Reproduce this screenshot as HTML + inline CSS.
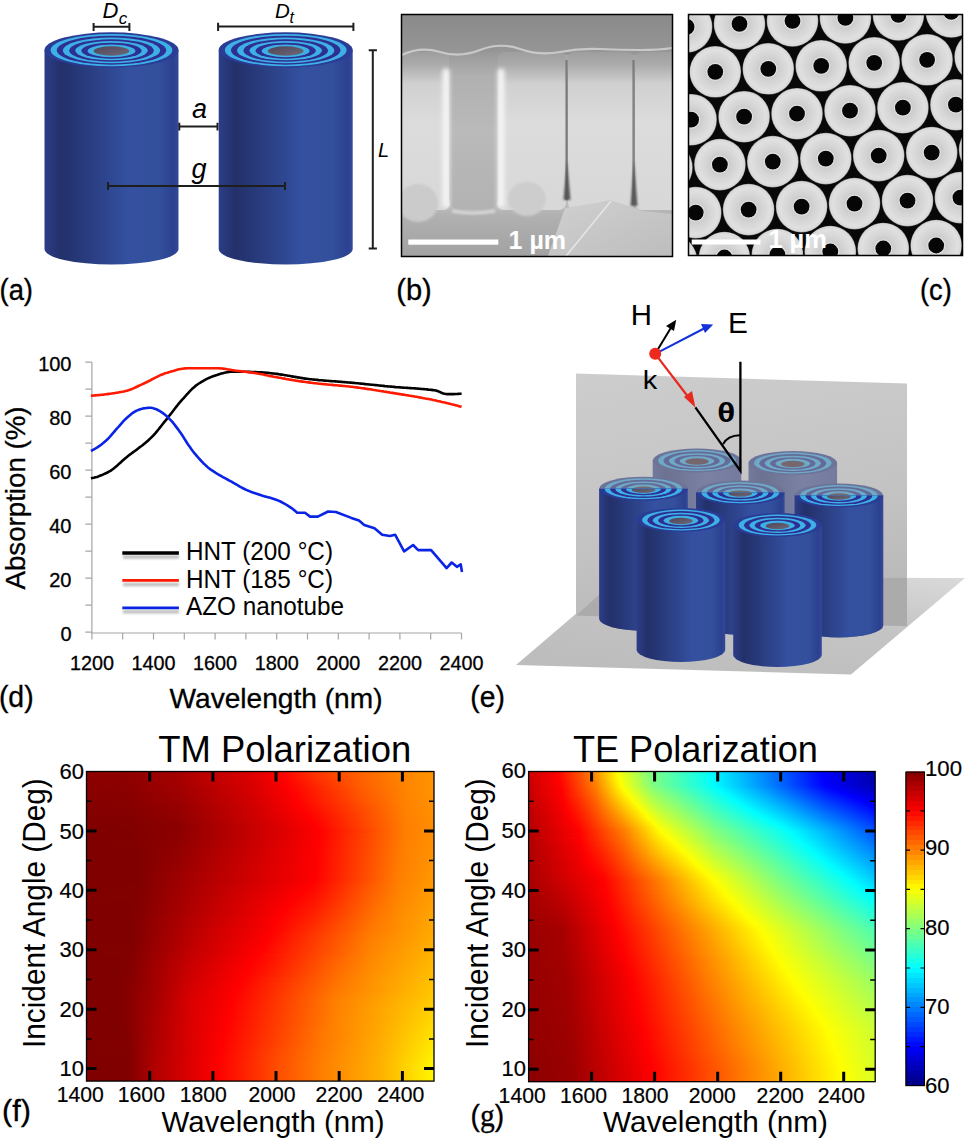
<!DOCTYPE html>
<html><head><meta charset="utf-8"><style>
html,body{margin:0;padding:0;background:#fff}
body{width:971px;height:1142px;position:relative;overflow:hidden;font-family:"Liberation Sans", sans-serif}
.hm{position:absolute;overflow:hidden}
.hm i{position:absolute;left:0;right:0;display:block}
</style></head><body>
<div class="hm" style="left:86px;top:771px;width:348px;height:310px"><i style="top:0px;height:2px;background:linear-gradient(90deg,#8c0000 0.0%,#910000 13.1%,#a50000 26.9%,#bd0000 33.2%,#d90000 46.1%,#fe0000 55.9%,#ff3700 65.9%,#ff6000 78.0%,#ff8400 90.1%,#ff9400 100.0%)"></i><i style="top:2px;height:2px;background:linear-gradient(90deg,#8c0000 0.0%,#910000 13.1%,#a50000 26.9%,#bb0000 33.2%,#d80000 46.1%,#fe0000 56.2%,#ff3400 65.9%,#ff5f00 78.0%,#ff8400 90.1%,#ff9400 100.0%)"></i><i style="top:4px;height:2px;background:linear-gradient(90deg,#8b0000 0.0%,#900000 12.8%,#a50000 26.9%,#ba0000 33.2%,#d80000 46.1%,#ff0000 56.5%,#ff3100 65.9%,#ff5e00 78.0%,#ff8300 90.1%,#ff9400 100.0%)"></i><i style="top:6px;height:2px;background:linear-gradient(90deg,#8b0000 0.0%,#8f0000 12.8%,#a40000 26.9%,#b90000 33.2%,#d70000 46.1%,#ff0000 56.8%,#ff2f00 65.9%,#ff6400 80.0%,#ff8200 90.1%,#ff9400 100.0%)"></i><i style="top:8px;height:2px;background:linear-gradient(90deg,#8b0000 0.0%,#8e0000 12.2%,#a40000 26.9%,#b80000 33.2%,#db0000 47.8%,#ff0000 57.0%,#ff2c00 65.9%,#ff6300 80.0%,#ff8100 90.1%,#ff9400 100.0%)"></i><i style="top:10px;height:2px;background:linear-gradient(90deg,#8a0000 0.0%,#8d0000 11.9%,#a40000 26.9%,#b90000 34.1%,#da0000 47.8%,#ff0000 57.3%,#ff2b00 66.2%,#ff6200 80.0%,#ff8500 91.8%,#ff9400 100.0%)"></i><i style="top:12px;height:2px;background:linear-gradient(90deg,#8a0000 0.0%,#8d0000 11.9%,#a30000 26.9%,#b90000 34.1%,#d90000 47.8%,#ff0000 57.6%,#ff3400 68.8%,#ff6200 80.0%,#ff8400 91.8%,#ff9400 100.0%)"></i><i style="top:14px;height:2px;background:linear-gradient(90deg,#8a0000 0.0%,#8c0000 11.9%,#a30000 26.9%,#d80000 47.8%,#fe0000 57.9%,#ff6100 80.0%,#ff8500 92.1%,#ff9400 100.0%)"></i><i style="top:16px;height:2px;background:linear-gradient(90deg,#890000 0.0%,#8c0000 11.9%,#a20000 26.9%,#d70000 47.8%,#fe0000 58.2%,#ff5f00 80.0%,#ff8500 92.1%,#ff9300 100.0%)"></i><i style="top:18px;height:2px;background:linear-gradient(90deg,#890000 0.0%,#8b0000 11.9%,#a10000 26.9%,#d70000 47.8%,#fe0000 58.5%,#ff5e00 80.0%,#ff8400 92.1%,#ff9300 100.0%)"></i><i style="top:20px;height:2px;background:linear-gradient(90deg,#880000 0.0%,#8a0000 11.9%,#a00000 26.9%,#d60000 47.8%,#fe0000 58.8%,#ff5c00 80.0%,#ff8400 92.1%,#ff9300 100.0%)"></i><i style="top:22px;height:2px;background:linear-gradient(90deg,#880000 0.0%,#8a0000 11.9%,#9f0000 26.9%,#d60000 48.1%,#ff0000 59.3%,#ff5b00 80.0%,#ff8400 92.1%,#ff9200 100.0%)"></i><i style="top:24px;height:2px;background:linear-gradient(90deg,#870000 0.0%,#890000 11.9%,#9e0000 26.9%,#d50000 48.1%,#ff0000 59.6%,#ff5900 80.0%,#ff8400 92.1%,#ff9200 100.0%)"></i><i style="top:26px;height:2px;background:linear-gradient(90deg,#870000 0.0%,#890000 11.9%,#9d0000 26.9%,#d40000 48.1%,#ff0000 59.9%,#ff5800 80.0%,#ff8200 91.8%,#ff9100 100.0%)"></i><i style="top:28px;height:2px;background:linear-gradient(90deg,#860000 0.0%,#880000 11.9%,#9c0000 26.9%,#d30000 48.1%,#ff0000 60.2%,#ff5600 80.0%,#ff8200 91.8%,#ff9100 100.0%)"></i><i style="top:30px;height:2px;background:linear-gradient(90deg,#860000 0.0%,#880000 12.2%,#9b0000 26.9%,#d30000 48.1%,#ff0000 60.5%,#ff5500 80.0%,#ff8200 91.8%,#ff9100 100.0%)"></i><i style="top:32px;height:2px;background:linear-gradient(90deg,#850000 0.0%,#870000 12.2%,#990000 26.9%,#d20000 48.1%,#fe0000 60.8%,#ff5300 80.0%,#ff8200 91.8%,#ff9000 100.0%)"></i><i style="top:34px;height:2px;background:linear-gradient(90deg,#850000 0.0%,#870000 12.2%,#980000 26.9%,#d10000 48.1%,#ff0000 61.4%,#ff8100 91.8%,#ff9000 100.0%)"></i><i style="top:36px;height:2px;background:linear-gradient(90deg,#850000 0.0%,#860000 12.2%,#970000 26.9%,#d00000 48.1%,#ff0000 61.6%,#ff8100 91.8%,#ff9000 100.0%)"></i><i style="top:38px;height:2px;background:linear-gradient(90deg,#840000 0.0%,#850000 12.2%,#960000 26.9%,#cf0000 48.1%,#ff0000 62.2%,#ff8100 91.8%,#ff8f00 100.0%)"></i><i style="top:40px;height:2px;background:linear-gradient(90deg,#840000 0.0%,#850000 12.8%,#950000 26.9%,#cf0000 48.1%,#ff0000 62.5%,#ff1100 67.1%,#ff8100 91.8%,#ff8f00 100.0%)"></i><i style="top:42px;height:2px;background:linear-gradient(90deg,#830000 0.0%,#850000 12.8%,#940000 26.9%,#ce0000 48.1%,#fe0000 62.8%,#ff0f00 67.1%,#ff8000 91.8%,#ff8f00 100.0%)"></i><i style="top:44px;height:2px;background:linear-gradient(90deg,#830000 0.0%,#840000 12.8%,#930000 26.9%,#cd0000 48.1%,#ff0000 63.4%,#ff0e00 67.1%,#ff8000 91.8%,#ff8e00 100.0%)"></i><i style="top:46px;height:2px;background:linear-gradient(90deg,#820000 0.0%,#830000 13.1%,#920000 26.9%,#df0000 54.7%,#ff0000 63.9%,#ff0c00 67.1%,#ff8000 91.8%,#ff8e00 100.0%)"></i><i style="top:48px;height:2px;background:linear-gradient(90deg,#820000 0.0%,#830000 13.1%,#910000 26.9%,#df0000 55.0%,#ff0000 64.2%,#ff0a00 67.1%,#ff8000 91.8%,#ff8e00 100.0%)"></i><i style="top:50px;height:2px;background:linear-gradient(90deg,#810000 0.0%,#820000 13.1%,#900000 26.9%,#de0000 55.0%,#ff0000 64.8%,#ff0800 67.1%,#ff7f00 91.8%,#ff8d00 100.0%)"></i><i style="top:52px;height:2px;background:linear-gradient(90deg,#810000 0.0%,#810000 13.1%,#8f0000 26.9%,#dc0000 55.0%,#ff0000 65.4%,#ff7f00 91.8%,#ff8d00 100.0%)"></i><i style="top:54px;height:2px;background:linear-gradient(90deg,#800000 0.0%,#810000 13.1%,#8e0000 26.9%,#db0000 55.0%,#ff0000 65.9%,#ff7f00 91.8%,#ff8d00 100.0%)"></i><i style="top:56px;height:2px;background:linear-gradient(90deg,#800000 0.0%,#800000 13.1%,#8d0000 26.9%,#da0000 55.0%,#ff0000 66.5%,#ff7f00 91.8%,#ff8c00 100.0%)"></i><i style="top:58px;height:2px;background:linear-gradient(90deg,#800000 0.0%,#800000 13.1%,#8c0000 26.9%,#b30000 40.1%,#d90000 55.0%,#ff0000 66.8%,#ff4000 80.0%,#ff7f00 91.8%,#ff8c00 100.0%)"></i><i style="top:60px;height:2px;background:linear-gradient(90deg,#800000 0.0%,#800000 13.1%,#8d0000 26.9%,#d90000 55.0%,#ff0000 66.8%,#ff4000 80.0%,#ff7f00 91.8%,#ff8d00 100.0%)"></i><i style="top:62px;height:2px;background:linear-gradient(90deg,#800000 0.0%,#800000 13.1%,#8e0000 26.9%,#da0000 55.0%,#ff0000 66.8%,#ff7f00 91.8%,#ff8d00 100.0%)"></i><i style="top:64px;height:2px;background:linear-gradient(90deg,#800000 0.0%,#800000 13.1%,#8e0000 26.9%,#da0000 55.0%,#ff0000 66.8%,#ff7f00 91.8%,#ff8e00 100.0%)"></i><i style="top:66px;height:2px;background:linear-gradient(90deg,#800000 0.0%,#800000 13.1%,#8f0000 26.9%,#db0000 55.0%,#ff0000 66.8%,#ff7f00 91.8%,#ff8e00 100.0%)"></i><i style="top:68px;height:2px;background:linear-gradient(90deg,#800000 0.0%,#800000 13.1%,#900000 26.9%,#db0000 55.0%,#fe0000 66.5%,#ff8000 91.8%,#ff8f00 100.0%)"></i><i style="top:70px;height:2px;background:linear-gradient(90deg,#800000 0.0%,#800000 13.1%,#900000 26.9%,#dc0000 55.0%,#ff0000 66.5%,#ff8000 91.8%,#ff8f00 100.0%)"></i><i style="top:72px;height:2px;background:linear-gradient(90deg,#800000 0.0%,#810000 14.8%,#910000 26.9%,#dc0000 55.0%,#ff0000 66.5%,#ff8000 91.8%,#ff9000 100.0%)"></i><i style="top:74px;height:2px;background:linear-gradient(90deg,#800000 0.0%,#810000 14.8%,#920000 26.9%,#dd0000 55.0%,#ff0000 66.5%,#ff8000 91.8%,#ff9000 100.0%)"></i><i style="top:76px;height:2px;background:linear-gradient(90deg,#800000 0.0%,#810000 14.8%,#930000 26.9%,#dd0000 55.0%,#ff0000 66.5%,#ff7900 90.1%,#ff8200 92.1%,#ff9100 100.0%)"></i><i style="top:78px;height:2px;background:linear-gradient(90deg,#800000 0.0%,#800000 14.8%,#930000 26.9%,#ff0000 66.5%,#ff7a00 90.1%,#ff8200 92.1%,#ff9100 100.0%)"></i><i style="top:80px;height:2px;background:linear-gradient(90deg,#800000 0.0%,#800000 14.8%,#940000 26.9%,#fe0000 66.2%,#ff7a00 90.1%,#ff8200 92.1%,#ff9200 100.0%)"></i><i style="top:82px;height:2px;background:linear-gradient(90deg,#800000 0.0%,#800000 14.8%,#950000 26.9%,#fe0000 66.2%,#ff7a00 90.1%,#ff8200 92.1%,#ff9200 100.0%)"></i><i style="top:84px;height:2px;background:linear-gradient(90deg,#800000 0.0%,#800000 14.8%,#950000 26.9%,#ff0000 66.2%,#ff7b00 90.1%,#ff8200 92.1%,#ff9300 100.0%)"></i><i style="top:86px;height:2px;background:linear-gradient(90deg,#800000 0.0%,#800000 15.1%,#960000 26.9%,#ff0000 66.2%,#ff7b00 90.1%,#ff8300 92.1%,#ff9300 100.0%)"></i><i style="top:88px;height:2px;background:linear-gradient(90deg,#800000 0.0%,#800000 15.1%,#970000 26.9%,#ff0000 66.2%,#ff7c00 90.1%,#ff9400 100.0%)"></i><i style="top:90px;height:2px;background:linear-gradient(90deg,#800000 0.0%,#800000 15.1%,#980000 27.2%,#ff0000 66.2%,#ff7c00 90.1%,#ff9400 100.0%)"></i><i style="top:92px;height:2px;background:linear-gradient(90deg,#800000 0.0%,#800000 15.1%,#990000 27.2%,#ff0000 66.2%,#ff7c00 90.1%,#ff9500 100.0%)"></i><i style="top:94px;height:2px;background:linear-gradient(90deg,#800000 0.0%,#800000 15.1%,#9a0000 27.2%,#ff0000 66.2%,#ff7d00 90.1%,#ff9500 100.0%)"></i><i style="top:96px;height:2px;background:linear-gradient(90deg,#800000 0.0%,#800000 15.1%,#9a0000 27.2%,#ff0000 66.2%,#ff7d00 90.1%,#ff9600 100.0%)"></i><i style="top:98px;height:2px;background:linear-gradient(90deg,#800000 0.0%,#800000 15.1%,#9b0000 27.2%,#fe0000 65.9%,#ff7e00 90.1%,#ff9600 100.0%)"></i><i style="top:100px;height:2px;background:linear-gradient(90deg,#800000 0.0%,#800000 15.1%,#fe0000 65.9%,#ff7e00 90.1%,#ff9700 100.0%)"></i><i style="top:102px;height:2px;background:linear-gradient(90deg,#800000 0.0%,#800000 15.1%,#ff0000 65.9%,#ff7f00 90.1%,#ff9700 100.0%)"></i><i style="top:104px;height:2px;background:linear-gradient(90deg,#800000 0.0%,#800000 15.1%,#ff0000 65.9%,#ff7e00 89.8%,#ff9800 100.0%)"></i><i style="top:106px;height:2px;background:linear-gradient(90deg,#800000 0.0%,#800000 15.1%,#ff0000 65.9%,#ff7e00 89.8%,#ff9800 100.0%)"></i><i style="top:108px;height:2px;background:linear-gradient(90deg,#800000 0.0%,#800000 15.1%,#ff0000 65.9%,#ff7f00 89.8%,#ff9900 100.0%)"></i><i style="top:110px;height:2px;background:linear-gradient(90deg,#800000 0.0%,#800000 15.1%,#ff0000 65.1%,#ff7f00 89.8%,#ff9900 100.0%)"></i><i style="top:112px;height:2px;background:linear-gradient(90deg,#800000 0.0%,#800000 15.1%,#ff0000 64.2%,#ff0600 66.2%,#ff5000 80.0%,#ff8000 89.8%,#ff9a00 100.0%)"></i><i style="top:114px;height:2px;background:linear-gradient(90deg,#800000 0.0%,#810000 15.1%,#ff0000 63.6%,#ff0800 66.2%,#ff5100 80.0%,#ff8100 89.8%,#ff9b00 100.0%)"></i><i style="top:116px;height:2px;background:linear-gradient(90deg,#800000 0.0%,#810000 15.1%,#ff0000 62.8%,#ff0800 65.9%,#ff5300 80.0%,#ff8100 89.8%,#ff9c00 100.0%)"></i><i style="top:118px;height:2px;background:linear-gradient(90deg,#800000 0.0%,#810000 15.1%,#ff0000 62.2%,#ff0a00 65.9%,#ff5400 80.0%,#ff8200 89.8%,#ff9c00 100.0%)"></i><i style="top:120px;height:2px;background:linear-gradient(90deg,#800000 0.0%,#810000 15.1%,#ff0000 61.6%,#ff0c00 65.9%,#ff5500 80.0%,#ff8300 89.8%,#ff9d00 100.0%)"></i><i style="top:122px;height:2px;background:linear-gradient(90deg,#800000 0.0%,#810000 15.1%,#ff0000 61.1%,#ff0e00 65.9%,#ff5700 80.0%,#ff8300 89.8%,#ff9e00 100.0%)"></i><i style="top:124px;height:2px;background:linear-gradient(90deg,#800000 0.0%,#820000 15.1%,#ff0000 60.5%,#ff1000 65.9%,#ff6100 81.8%,#ff8400 89.8%,#ff9e00 100.0%)"></i><i style="top:126px;height:2px;background:linear-gradient(90deg,#800000 0.0%,#820000 15.1%,#ff0000 59.9%,#ff1200 65.9%,#ff6200 81.8%,#ff8500 89.8%,#ff9f00 100.0%)"></i><i style="top:128px;height:2px;background:linear-gradient(90deg,#800000 0.0%,#820000 15.1%,#ff0000 59.3%,#ff1400 65.9%,#ff6300 81.8%,#ff8600 89.8%,#ffa000 100.0%)"></i><i style="top:130px;height:2px;background:linear-gradient(90deg,#800000 0.0%,#800000 12.8%,#820000 15.1%,#ff0000 58.8%,#ff1600 65.9%,#ff6500 81.8%,#ff8600 89.8%,#ffa000 100.0%)"></i><i style="top:132px;height:2px;background:linear-gradient(90deg,#800000 0.0%,#800000 12.8%,#830000 15.1%,#ff0000 58.5%,#ff1800 65.9%,#ff6700 82.0%,#ff8700 89.8%,#ffa100 100.0%)"></i><i style="top:134px;height:2px;background:linear-gradient(90deg,#800000 0.0%,#800000 12.8%,#830000 15.1%,#ff0000 57.9%,#ff1a00 65.9%,#ff6900 82.0%,#ff8800 89.8%,#ffa200 100.0%)"></i><i style="top:136px;height:2px;background:linear-gradient(90deg,#800000 0.0%,#800000 12.8%,#830000 15.1%,#ff0000 57.3%,#ff1c00 65.9%,#ff6a00 82.0%,#ff8800 89.8%,#ffa200 100.0%)"></i><i style="top:138px;height:2px;background:linear-gradient(90deg,#800000 0.0%,#800000 12.8%,#830000 15.1%,#ff0000 57.0%,#ff1e00 65.9%,#ff6b00 82.0%,#ff8900 89.8%,#ffa300 100.0%)"></i><i style="top:140px;height:2px;background:linear-gradient(90deg,#800000 0.0%,#800000 12.8%,#830000 14.8%,#fe0000 56.5%,#ff2000 65.9%,#ff6d00 82.0%,#ff8b00 90.1%,#ffa400 100.0%)"></i><i style="top:142px;height:2px;background:linear-gradient(90deg,#800000 0.0%,#800000 12.8%,#830000 14.8%,#ff0000 56.2%,#ff2200 65.9%,#ff6e00 82.0%,#ff8b00 90.1%,#ffa400 100.0%)"></i><i style="top:144px;height:2px;background:linear-gradient(90deg,#800000 0.0%,#800000 12.8%,#830000 14.8%,#ff0000 55.9%,#ff2400 65.9%,#ff6f00 82.0%,#ff8c00 90.1%,#ffa500 100.0%)"></i><i style="top:146px;height:2px;background:linear-gradient(90deg,#800000 0.0%,#800000 13.1%,#ff0000 55.3%,#ff2600 65.9%,#ff7100 82.0%,#ff8d00 90.1%,#ffa600 100.0%)"></i><i style="top:148px;height:2px;background:linear-gradient(90deg,#800000 0.0%,#800000 13.1%,#ff0000 55.0%,#ff2800 65.9%,#ff7200 82.0%,#ff8d00 90.1%,#ffa600 100.0%)"></i><i style="top:150px;height:2px;background:linear-gradient(90deg,#800000 0.0%,#800000 13.1%,#ff0000 54.7%,#ff2a00 65.9%,#ff7400 82.0%,#ff8e00 90.1%,#ffa700 100.0%)"></i><i style="top:152px;height:2px;background:linear-gradient(90deg,#800000 0.0%,#800000 13.1%,#ff0000 54.5%,#ff2c00 65.9%,#ff7500 82.0%,#ff8f00 90.1%,#ffa800 100.0%)"></i><i style="top:154px;height:2px;background:linear-gradient(90deg,#800000 0.0%,#800000 13.1%,#ff0000 54.2%,#ff2e00 65.9%,#ff7600 82.0%,#ff8f00 90.1%,#ffa800 100.0%)"></i><i style="top:156px;height:2px;background:linear-gradient(90deg,#800000 0.0%,#800000 13.1%,#c70000 34.9%,#fe0000 53.6%,#ff3000 65.9%,#ff7800 82.0%,#ffa900 100.0%)"></i><i style="top:158px;height:2px;background:linear-gradient(90deg,#800000 0.0%,#800000 13.1%,#c80000 34.9%,#ff0000 53.3%,#ff3200 65.9%,#ff7900 82.0%,#ffaa00 100.0%)"></i><i style="top:160px;height:2px;background:linear-gradient(90deg,#800000 0.0%,#800000 13.1%,#c80000 34.9%,#ff0000 53.0%,#ff3300 65.9%,#ff7a00 82.0%,#ffaa00 100.0%)"></i><i style="top:162px;height:2px;background:linear-gradient(90deg,#800000 0.0%,#800000 13.1%,#c90000 34.9%,#ff0000 52.7%,#ff7c00 82.0%,#ffab00 100.0%)"></i><i style="top:164px;height:2px;background:linear-gradient(90deg,#800000 0.0%,#800000 13.1%,#ca0000 34.9%,#ff0000 52.4%,#ff7d00 82.0%,#ffac00 100.0%)"></i><i style="top:166px;height:2px;background:linear-gradient(90deg,#800000 0.0%,#800000 13.1%,#cb0000 34.9%,#ff0000 52.2%,#ff7e00 82.0%,#ffac00 100.0%)"></i><i style="top:168px;height:2px;background:linear-gradient(90deg,#800000 0.0%,#800000 13.1%,#cc0000 34.9%,#ff0000 51.9%,#ff8000 82.0%,#ffad00 100.0%)"></i><i style="top:170px;height:2px;background:linear-gradient(90deg,#800000 0.0%,#800000 13.1%,#cd0000 34.9%,#ff0000 51.6%,#ff8100 82.0%,#ffae00 100.0%)"></i><i style="top:172px;height:2px;background:linear-gradient(90deg,#800000 0.0%,#810000 13.1%,#ce0000 34.9%,#ff0000 51.0%,#ff8100 82.0%,#ffaf00 100.0%)"></i><i style="top:174px;height:2px;background:linear-gradient(90deg,#800000 0.0%,#810000 13.1%,#cf0000 34.9%,#ff0000 50.7%,#ff8200 82.0%,#ffb000 100.0%)"></i><i style="top:176px;height:2px;background:linear-gradient(90deg,#800000 0.0%,#810000 13.1%,#bf0000 30.0%,#ff0000 50.1%,#ff8300 82.0%,#ffb100 100.0%)"></i><i style="top:178px;height:2px;background:linear-gradient(90deg,#800000 0.0%,#820000 13.1%,#c00000 30.0%,#ff0000 49.9%,#ff8400 82.0%,#ffb200 100.0%)"></i><i style="top:180px;height:2px;background:linear-gradient(90deg,#800000 0.0%,#820000 13.1%,#c10000 30.0%,#ff0000 49.3%,#ff0900 52.2%,#ff8500 82.0%,#ffb300 100.0%)"></i><i style="top:182px;height:2px;background:linear-gradient(90deg,#800000 0.0%,#820000 13.1%,#c20000 30.0%,#ff0000 49.0%,#ff8600 82.0%,#ffb400 100.0%)"></i><i style="top:184px;height:2px;background:linear-gradient(90deg,#800000 0.0%,#800000 9.9%,#830000 13.1%,#c30000 30.0%,#ff0000 48.7%,#ff8700 82.0%,#ffb500 100.0%)"></i><i style="top:186px;height:2px;background:linear-gradient(90deg,#800000 0.0%,#800000 9.9%,#830000 13.1%,#c40000 30.0%,#ff0000 48.1%,#ff0d00 52.2%,#ff6200 72.0%,#ff8800 82.0%,#ffb600 100.0%)"></i><i style="top:188px;height:2px;background:linear-gradient(90deg,#800000 0.0%,#800000 9.9%,#840000 13.1%,#c50000 30.0%,#ff0000 47.8%,#ff0f00 52.2%,#ff6300 72.0%,#ff8900 82.0%,#ffb700 100.0%)"></i><i style="top:190px;height:2px;background:linear-gradient(90deg,#800000 0.0%,#800000 9.9%,#840000 13.1%,#c60000 30.0%,#ff0000 47.6%,#ff1000 52.2%,#ff6400 72.0%,#ff8900 82.0%,#ffb800 100.0%)"></i><i style="top:192px;height:2px;background:linear-gradient(90deg,#800000 0.0%,#800000 9.9%,#840000 13.1%,#c70000 30.0%,#ff0000 47.3%,#ff1200 52.2%,#ff6600 72.0%,#ff8900 81.8%,#ffb900 100.0%)"></i><i style="top:194px;height:2px;background:linear-gradient(90deg,#800000 0.0%,#800000 9.9%,#850000 13.1%,#c80000 30.0%,#ff0000 46.7%,#ff1300 52.2%,#ff6700 72.0%,#ff8a00 81.8%,#ffba00 100.0%)"></i><i style="top:196px;height:2px;background:linear-gradient(90deg,#800000 0.0%,#800000 9.9%,#850000 13.1%,#c90000 30.0%,#ff0000 46.4%,#ff1400 52.2%,#ff6900 72.0%,#ff8b00 81.8%,#ffbb00 100.0%)"></i><i style="top:198px;height:2px;background:linear-gradient(90deg,#800000 0.0%,#800000 9.9%,#850000 13.1%,#ca0000 30.0%,#ff0000 46.1%,#ff1600 52.2%,#ff6b00 72.3%,#ff8d00 82.0%,#ffbc00 100.0%)"></i><i style="top:200px;height:2px;background:linear-gradient(90deg,#800000 0.0%,#800000 9.9%,#860000 13.1%,#cb0000 30.0%,#ff0000 45.8%,#ff1700 52.2%,#ff6b00 72.0%,#ff8e00 82.0%,#ffbd00 100.0%)"></i><i style="top:202px;height:2px;background:linear-gradient(90deg,#800000 0.0%,#800000 9.9%,#860000 13.1%,#cc0000 30.0%,#ff0000 45.5%,#ff1900 52.2%,#ff6d00 72.0%,#ff8f00 82.0%,#ffbe00 100.0%)"></i><i style="top:204px;height:2px;background:linear-gradient(90deg,#800000 0.0%,#800000 9.9%,#870000 13.1%,#a00000 20.0%,#cd0000 30.0%,#ff0000 45.3%,#ff1a00 52.2%,#ff6e00 72.0%,#ff9000 82.0%,#ffbf00 100.0%)"></i><i style="top:206px;height:2px;background:linear-gradient(90deg,#800000 0.0%,#800000 9.9%,#870000 13.1%,#a10000 20.0%,#ce0000 30.0%,#ff0000 45.0%,#ff7000 72.0%,#ff9100 82.0%,#ffc000 100.0%)"></i><i style="top:208px;height:2px;background:linear-gradient(90deg,#800000 0.0%,#800000 9.9%,#870000 12.8%,#a10000 20.0%,#cf0000 30.0%,#ff0000 44.7%,#ff7100 72.0%,#ff9200 82.0%,#ffc100 100.0%)"></i><i style="top:210px;height:2px;background:linear-gradient(90deg,#800000 0.0%,#800000 9.9%,#870000 12.8%,#a20000 20.0%,#d00000 30.0%,#ff0000 44.4%,#ff7200 72.0%,#ff9200 82.0%,#ffc200 100.0%)"></i><i style="top:212px;height:2px;background:linear-gradient(90deg,#800000 0.0%,#800000 9.9%,#870000 12.8%,#a20000 20.0%,#d10000 30.0%,#ff0000 44.1%,#ff7400 72.0%,#ff9300 82.0%,#ffc300 100.0%)"></i><i style="top:214px;height:2px;background:linear-gradient(90deg,#800000 0.0%,#800000 10.2%,#a30000 20.0%,#d20000 30.0%,#ff0000 43.8%,#ff7500 72.0%,#ff9400 82.0%,#ffc400 100.0%)"></i><i style="top:216px;height:2px;background:linear-gradient(90deg,#800000 0.0%,#800000 10.2%,#a30000 20.0%,#d30000 30.0%,#ff0000 43.5%,#ff7700 72.0%,#ffc500 100.0%)"></i><i style="top:218px;height:2px;background:linear-gradient(90deg,#800000 0.0%,#800000 10.2%,#a30000 20.0%,#d40000 30.0%,#ff0000 43.2%,#ff7800 72.0%,#ffc600 100.0%)"></i><i style="top:220px;height:2px;background:linear-gradient(90deg,#800000 0.0%,#800000 10.2%,#a40000 20.0%,#d50000 30.0%,#ff0000 43.0%,#ff7a00 72.0%,#ffc700 100.0%)"></i><i style="top:222px;height:2px;background:linear-gradient(90deg,#800000 0.0%,#800000 10.2%,#a40000 20.0%,#d60000 30.0%,#ff0000 42.7%,#ff7b00 72.0%,#ffc800 100.0%)"></i><i style="top:224px;height:2px;background:linear-gradient(90deg,#800000 0.0%,#800000 10.2%,#a50000 20.0%,#d70000 30.0%,#fe0000 42.4%,#ff7c00 72.0%,#ffc900 100.0%)"></i><i style="top:226px;height:2px;background:linear-gradient(90deg,#800000 0.0%,#800000 10.2%,#a50000 20.0%,#d80000 30.0%,#ff0000 42.4%,#ff7e00 72.0%,#ffca00 100.0%)"></i><i style="top:228px;height:2px;background:linear-gradient(90deg,#800000 0.0%,#800000 10.2%,#a60000 20.0%,#d90000 30.0%,#ff0000 42.1%,#ff7f00 72.0%,#ffcb00 100.0%)"></i><i style="top:230px;height:2px;background:linear-gradient(90deg,#800000 0.0%,#800000 10.2%,#a60000 20.0%,#d90000 30.0%,#ff0000 41.8%,#ff8000 72.0%,#ffcd00 100.0%)"></i><i style="top:232px;height:2px;background:linear-gradient(90deg,#800000 0.0%,#800000 10.2%,#a60000 20.0%,#d90000 30.0%,#ff0000 41.8%,#ff8000 72.0%,#ffce00 100.0%)"></i><i style="top:234px;height:2px;background:linear-gradient(90deg,#7f0000 0.0%,#800000 10.2%,#a70000 20.0%,#d90000 30.0%,#ff0000 41.5%,#ff8000 72.0%,#ffcf00 100.0%)"></i><i style="top:236px;height:2px;background:linear-gradient(90deg,#800000 0.0%,#800000 10.2%,#a70000 20.0%,#d90000 30.0%,#ff0100 41.5%,#ff8100 72.0%,#ffd100 100.0%)"></i><i style="top:238px;height:2px;background:linear-gradient(90deg,#800000 0.0%,#800000 10.2%,#a80000 20.0%,#d90000 30.0%,#ff0000 41.2%,#ff8100 72.0%,#ffd200 100.0%)"></i><i style="top:240px;height:2px;background:linear-gradient(90deg,#800000 0.0%,#800000 10.2%,#a80000 20.0%,#da0000 30.0%,#ff0100 41.2%,#ff8200 72.0%,#ffd300 100.0%)"></i><i style="top:242px;height:2px;background:linear-gradient(90deg,#800000 0.0%,#800000 9.9%,#850000 11.9%,#a80000 20.0%,#da0000 30.0%,#ff0000 40.9%,#ff8200 72.0%,#ffd500 100.0%)"></i><i style="top:244px;height:2px;background:linear-gradient(90deg,#800000 0.0%,#800000 9.9%,#850000 11.9%,#da0000 30.0%,#ff0000 40.7%,#ff8200 72.0%,#ffa600 84.9%,#ffd600 100.0%)"></i><i style="top:246px;height:2px;background:linear-gradient(90deg,#800000 0.0%,#800000 9.9%,#850000 11.9%,#da0000 30.0%,#ff0000 40.7%,#ff8300 72.0%,#ffa700 84.9%,#ffd700 100.0%)"></i><i style="top:248px;height:2px;background:linear-gradient(90deg,#800000 0.0%,#800000 9.9%,#850000 11.9%,#da0000 30.0%,#ff0100 40.7%,#ff8300 72.0%,#ffa700 84.9%,#ffd900 100.0%)"></i><i style="top:250px;height:2px;background:linear-gradient(90deg,#800000 0.0%,#800000 9.9%,#840000 11.9%,#da0000 30.0%,#ff0000 40.4%,#ff8300 72.0%,#ffa800 84.9%,#ffda00 100.0%)"></i><i style="top:252px;height:2px;background:linear-gradient(90deg,#800000 0.0%,#800000 9.9%,#840000 11.9%,#da0000 30.0%,#ff0100 40.4%,#ff8400 72.0%,#ffa800 84.9%,#ffdb00 100.0%)"></i><i style="top:254px;height:2px;background:linear-gradient(90deg,#800000 0.0%,#800000 9.9%,#840000 11.9%,#db0000 30.0%,#ff0000 40.1%,#ff8400 72.0%,#ffa900 84.9%,#ffdd00 100.0%)"></i><i style="top:256px;height:2px;background:linear-gradient(90deg,#800000 0.0%,#800000 9.9%,#840000 11.9%,#db0000 30.0%,#ff0000 40.1%,#ff8500 72.0%,#ffa900 84.9%,#ffde00 100.0%)"></i><i style="top:258px;height:2px;background:linear-gradient(90deg,#800000 0.0%,#800000 9.9%,#840000 11.9%,#db0000 30.0%,#ff0000 39.8%,#ff7700 68.2%,#ffaa00 84.9%,#ffdf00 100.0%)"></i><i style="top:260px;height:2px;background:linear-gradient(90deg,#800000 0.0%,#800000 9.9%,#830000 11.9%,#db0000 30.0%,#ff0000 39.8%,#ff7700 68.0%,#ffaa00 84.9%,#ffe100 100.0%)"></i><i style="top:262px;height:2px;background:linear-gradient(90deg,#800000 0.0%,#800000 9.9%,#830000 11.9%,#db0000 30.0%,#ff0000 39.5%,#ff7700 68.0%,#ffab00 84.9%,#ffe200 100.0%)"></i><i style="top:264px;height:2px;background:linear-gradient(90deg,#800000 0.0%,#800000 9.9%,#830000 11.9%,#db0000 30.0%,#ff0000 39.5%,#ff7800 68.0%,#ffab00 84.9%,#ffe300 100.0%)"></i><i style="top:266px;height:2px;background:linear-gradient(90deg,#800000 0.0%,#800000 9.9%,#830000 11.9%,#ad0000 20.0%,#db0000 30.0%,#ff0100 39.5%,#ff7800 68.0%,#ffac00 84.9%,#ffe400 100.0%)"></i><i style="top:268px;height:2px;background:linear-gradient(90deg,#800000 0.0%,#820000 11.9%,#ad0000 20.0%,#da0000 29.7%,#ff0000 39.2%,#ff7900 68.0%,#ffac00 84.9%,#ffe600 100.0%)"></i><i style="top:270px;height:2px;background:linear-gradient(90deg,#800000 0.0%,#820000 11.9%,#af0000 20.3%,#dc0000 30.0%,#ff0000 39.2%,#ff7900 68.0%,#ffad00 84.9%,#ffe700 100.0%)"></i><i style="top:272px;height:2px;background:linear-gradient(90deg,#800000 0.0%,#820000 11.9%,#af0000 20.3%,#dc0000 30.0%,#ff0000 38.9%,#ff7a00 68.0%,#ffad00 84.9%,#ffe800 100.0%)"></i><i style="top:274px;height:2px;background:linear-gradient(90deg,#800000 0.0%,#820000 11.9%,#af0000 20.0%,#dc0000 30.0%,#ff0000 38.9%,#ff7a00 68.0%,#ffae00 84.9%,#ffea00 100.0%)"></i><i style="top:276px;height:2px;background:linear-gradient(90deg,#800000 0.0%,#810000 11.9%,#af0000 20.0%,#dc0000 30.0%,#ff0000 38.9%,#ff4700 55.0%,#ff7b00 68.0%,#ffae00 84.9%,#ffeb00 100.0%)"></i><i style="top:278px;height:2px;background:linear-gradient(90deg,#800000 0.0%,#810000 11.9%,#af0000 20.0%,#ff0000 38.6%,#ff4800 55.0%,#ff7b00 68.0%,#ffae00 84.9%,#ffec00 100.0%)"></i><i style="top:280px;height:2px;background:linear-gradient(90deg,#800000 0.0%,#810000 11.9%,#b00000 20.0%,#ff0000 38.6%,#ff4800 55.0%,#ff7c00 68.0%,#ffaf00 84.9%,#ffee00 100.0%)"></i><i style="top:282px;height:2px;background:linear-gradient(90deg,#800000 0.0%,#810000 11.9%,#b00000 20.0%,#ff0100 38.6%,#ff4900 55.0%,#ff7c00 68.0%,#ffaf00 84.9%,#ffef00 100.0%)"></i><i style="top:284px;height:2px;background:linear-gradient(90deg,#800000 0.0%,#810000 11.9%,#b00000 20.0%,#ff0000 38.4%,#ff4a00 55.0%,#ff7d00 68.0%,#ffb000 84.9%,#fff000 100.0%)"></i><i style="top:286px;height:2px;background:linear-gradient(90deg,#800000 0.0%,#800000 11.9%,#b10000 20.0%,#ff0000 38.4%,#ff4a00 55.0%,#ff7d00 68.0%,#ffb000 84.9%,#fff200 100.0%)"></i><i style="top:288px;height:2px;background:linear-gradient(90deg,#800000 0.0%,#800000 11.9%,#b10000 20.0%,#ff0100 38.4%,#ff4b00 55.0%,#ff7e00 68.0%,#ffb100 84.9%,#fff300 100.0%)"></i><i style="top:290px;height:2px;background:linear-gradient(90deg,#800000 0.0%,#800000 11.9%,#b20000 20.0%,#ff0000 38.1%,#ff4b00 55.0%,#ff7e00 68.0%,#ffb100 84.9%,#fff400 100.0%)"></i><i style="top:292px;height:2px;background:linear-gradient(90deg,#800000 0.0%,#800000 11.9%,#b20000 20.0%,#ff0000 38.1%,#ff4c00 55.0%,#ff7f00 68.0%,#ffb200 84.9%,#fff600 100.0%)"></i><i style="top:294px;height:2px;background:linear-gradient(90deg,#800000 0.0%,#800000 11.9%,#b20000 20.0%,#ff0000 38.1%,#ff4d00 55.0%,#ff7f00 68.0%,#ffb200 84.9%,#fff700 100.0%)"></i><i style="top:296px;height:2px;background:linear-gradient(90deg,#800000 0.0%,#800000 11.9%,#b20000 20.0%,#ff0000 38.1%,#ff4d00 55.0%,#ff7f00 68.0%,#ffb200 84.9%,#fff700 100.0%)"></i><i style="top:298px;height:2px;background:linear-gradient(90deg,#800000 0.0%,#800000 11.9%,#b20000 20.0%,#ff0000 38.1%,#ff4d00 55.0%,#ff7f00 68.0%,#ffb200 84.9%,#fff700 100.0%)"></i><i style="top:300px;height:2px;background:linear-gradient(90deg,#800000 0.0%,#800000 11.9%,#b20000 20.0%,#ff0000 38.1%,#ff4d00 55.0%,#ff7f00 68.0%,#ffb200 84.9%,#fff700 100.0%)"></i><i style="top:302px;height:2px;background:linear-gradient(90deg,#800000 0.0%,#800000 11.9%,#b20000 20.0%,#ff0000 38.1%,#ff4d00 55.0%,#ff7f00 68.0%,#ffb200 84.9%,#fff700 100.0%)"></i><i style="top:304px;height:2px;background:linear-gradient(90deg,#800000 0.0%,#800000 11.9%,#b20000 20.0%,#ff0000 38.1%,#ff4d00 55.0%,#ff7f00 68.0%,#ffb200 84.9%,#fff700 100.0%)"></i><i style="top:306px;height:2px;background:linear-gradient(90deg,#800000 0.0%,#800000 11.9%,#b20000 20.0%,#ff0000 38.1%,#ff4d00 55.0%,#ff7f00 68.0%,#ffb200 84.9%,#fff700 100.0%)"></i><i style="top:308px;height:2px;background:linear-gradient(90deg,#800000 0.0%,#800000 11.9%,#b20000 20.0%,#ff0000 38.1%,#ff4d00 55.0%,#ff7f00 68.0%,#ffb200 84.9%,#fff700 100.0%)"></i></div><div class="hm" style="left:528px;top:771px;width:347px;height:311px"><i style="top:0px;height:2px;background:linear-gradient(90deg,#cc0000 0.0%,#ff0100 8.5%,#ff8000 18.6%,#fffd00 25.5%,#fdff02 25.8%,#80ff7f 35.0%,#00ffff 52.6%,#0080ff 69.0%,#0000ff 84.6%,#0000a7 100.0%)"></i><i style="top:2px;height:2px;background:linear-gradient(90deg,#cc0000 0.0%,#f90000 7.9%,#ff0000 8.5%,#ff7e00 18.6%,#fffa00 25.5%,#fbff04 26.1%,#82ff7d 35.0%,#00feff 52.9%,#0081ff 69.0%,#0001ff 84.6%,#0000a9 100.0%)"></i><i style="top:4px;height:2px;background:linear-gradient(90deg,#cb0000 0.0%,#ff0200 8.8%,#ff7c00 18.6%,#feff01 26.1%,#84ff7b 35.0%,#7cff83 35.9%,#00ffff 52.9%,#0082ff 69.0%,#0000ff 84.9%,#0000ab 100.0%)"></i><i style="top:6px;height:2px;background:linear-gradient(90deg,#ca0000 0.0%,#fd0000 8.5%,#ff0400 9.1%,#ff7a00 18.6%,#fff400 25.5%,#fdff02 26.4%,#86ff79 35.0%,#7dff82 35.9%,#01fffe 52.9%,#0083ff 69.0%,#0001ff 84.9%,#0000ad 100.0%)"></i><i style="top:8px;height:2px;background:linear-gradient(90deg,#ca0000 0.0%,#ff0000 8.8%,#ff0500 9.4%,#ff7800 18.6%,#ff8a00 19.7%,#fff100 25.5%,#ffff00 26.4%,#fbff04 26.7%,#7eff81 35.9%,#00feff 53.2%,#007dff 69.9%,#0000ff 85.2%,#0000ae 100.0%)"></i><i style="top:10px;height:2px;background:linear-gradient(90deg,#c90000 0.0%,#fe0000 8.8%,#ff0400 9.4%,#ff8200 19.5%,#ffee00 25.5%,#fdff02 26.7%,#7fff80 35.9%,#01fffe 53.2%,#007eff 69.9%,#0001ff 85.2%,#0000b0 100.0%)"></i><i style="top:12px;height:2px;background:linear-gradient(90deg,#c80000 0.0%,#ff0200 9.4%,#ff8000 19.5%,#fffe00 26.7%,#fbff04 26.9%,#7dff82 36.2%,#00feff 53.5%,#007fff 69.9%,#0000ff 85.4%,#0000b2 100.0%)"></i><i style="top:14px;height:2px;background:linear-gradient(90deg,#c80000 0.0%,#ff0100 9.4%,#ff7d00 19.5%,#feff01 26.9%,#80ff7f 36.2%,#00feff 53.7%,#0082ff 69.9%,#0001ff 85.7%,#0000b5 100.0%)"></i><i style="top:16px;height:2px;background:linear-gradient(90deg,#c70000 0.0%,#fe0000 9.4%,#ff7a00 19.5%,#fff500 26.7%,#fdff02 27.5%,#86ff79 36.2%,#01fffe 54.3%,#0089ff 69.9%,#0008ff 85.7%,#0000fe 87.5%,#0000bb 100.0%)"></i><i style="top:18px;height:2px;background:linear-gradient(90deg,#c60000 0.0%,#ff0100 9.7%,#ff7600 19.5%,#ffef00 26.7%,#ffff00 27.8%,#8dff72 36.2%,#00ffff 55.2%,#0090ff 69.9%,#0011ff 85.7%,#0000fe 88.9%,#0000c2 100.0%)"></i><i style="top:20px;height:2px;background:linear-gradient(90deg,#c50000 0.0%,#ff0000 9.7%,#ff7300 19.5%,#ffe900 26.7%,#fdff02 28.4%,#94ff6b 36.2%,#00feff 56.1%,#0095ff 70.2%,#0019ff 85.7%,#0000fe 90.3%,#0000c9 100.0%)"></i><i style="top:22px;height:2px;background:linear-gradient(90deg,#c40000 0.0%,#ff0200 9.9%,#ff6f00 19.5%,#ffe300 26.7%,#fffe00 28.7%,#fcff03 29.0%,#9bff64 36.2%,#00feff 56.9%,#009cff 70.2%,#0021ff 85.7%,#0000ff 91.5%,#0000d0 100.0%)"></i><i style="top:24px;height:2px;background:linear-gradient(90deg,#c30000 0.0%,#ff0100 9.9%,#ff6c00 19.5%,#ffdd00 26.7%,#feff01 29.3%,#a2ff5d 36.2%,#01fffe 57.5%,#00a3ff 70.2%,#0029ff 85.7%,#0000ff 92.9%,#0000d7 100.0%)"></i><i style="top:26px;height:2px;background:linear-gradient(90deg,#c20000 0.0%,#ff0200 10.2%,#ff2f00 14.6%,#ff6800 19.5%,#ffd700 26.7%,#fdff02 29.8%,#a9ff56 36.2%,#00ffff 58.4%,#00aaff 70.2%,#0031ff 85.7%,#0001ff 94.1%,#0000de 100.0%)"></i><i style="top:28px;height:2px;background:linear-gradient(90deg,#c10000 0.0%,#f50000 9.1%,#ff0100 10.2%,#ff2c00 14.6%,#ff6500 19.5%,#ffd100 26.7%,#fffe00 30.1%,#fcff03 30.4%,#b2ff4d 35.9%,#a0ff5f 37.9%,#00ffff 59.2%,#00b1ff 70.2%,#003bff 85.4%,#0001ff 95.2%,#0000e5 100.0%)"></i><i style="top:30px;height:2px;background:linear-gradient(90deg,#c00000 0.0%,#f40000 9.1%,#ff0200 10.5%,#ff2a00 14.6%,#ff6100 19.5%,#ffca00 26.7%,#ffff00 30.7%,#b9ff46 35.9%,#a6ff59 37.9%,#2fffd0 53.5%,#00ffff 60.1%,#0096ff 74.8%,#0043ff 85.4%,#0000ff 96.7%,#0000ec 100.0%)"></i><i style="top:32px;height:2px;background:linear-gradient(90deg,#bf0000 0.0%,#f30000 9.1%,#ff0000 10.5%,#ff2700 14.6%,#ff5e00 19.5%,#ffc400 26.7%,#fdff02 31.3%,#c0ff3f 35.9%,#adff52 37.9%,#35ffca 53.5%,#01fffe 61.0%,#009eff 74.8%,#004bff 85.4%,#0000ff 97.8%,#0000f3 100.0%)"></i><i style="top:34px;height:2px;background:linear-gradient(90deg,#be0000 0.0%,#f10000 9.1%,#ff0100 10.8%,#ff2400 14.6%,#ff5a00 19.5%,#ffbe00 26.7%,#fcff03 31.8%,#c7ff38 35.9%,#b1ff4e 38.2%,#3bffc4 53.5%,#01fffe 61.8%,#00a5ff 74.8%,#0053ff 85.4%,#0000ff 99.0%,#0000fa 100.0%)"></i><i style="top:36px;height:2px;background:linear-gradient(90deg,#bd0000 0.0%,#f00000 9.1%,#ff0200 11.1%,#ff2100 14.6%,#ff5700 19.5%,#ffb800 26.7%,#ffff00 32.1%,#fbff04 32.4%,#ceff31 35.9%,#b7ff48 38.2%,#40ffbf 53.5%,#00ffff 63.0%,#00abff 75.1%,#005bff 85.4%,#0001ff 100.0%)"></i><i style="top:38px;height:2px;background:linear-gradient(90deg,#bd0000 0.0%,#ef0000 9.1%,#ff0000 11.1%,#ff1e00 14.6%,#ff5300 19.5%,#feff01 32.7%,#d5ff2a 35.9%,#bdff42 38.2%,#46ffb9 53.5%,#00ffff 63.8%,#00b2ff 75.1%,#0063ff 85.4%,#0008ff 100.0%)"></i><i style="top:40px;height:2px;background:linear-gradient(90deg,#bc0000 0.0%,#ee0000 9.1%,#ff0100 11.4%,#ff1b00 14.6%,#ff5000 19.5%,#fdff02 33.3%,#dcff23 35.9%,#c4ff3b 38.2%,#4cffb3 53.5%,#01fffe 64.7%,#00baff 75.1%,#006cff 85.4%,#000fff 100.0%)"></i><i style="top:42px;height:2px;background:linear-gradient(90deg,#bb0000 0.0%,#ec0000 9.1%,#ff0100 11.7%,#ff1800 14.6%,#ff4c00 19.5%,#fdff02 33.9%,#e2ff1d 35.9%,#caff35 38.2%,#52ffad 53.5%,#00ffff 65.9%,#00c1ff 75.1%,#0074ff 85.4%,#0016ff 100.0%)"></i><i style="top:44px;height:2px;background:linear-gradient(90deg,#ba0000 0.0%,#eb0000 9.1%,#ff0200 12.0%,#ff1600 14.6%,#ff4c00 19.7%,#ffac00 27.8%,#fffe00 34.1%,#fcff03 34.4%,#d1ff2e 38.2%,#57ffa8 53.5%,#00feff 67.0%,#00c9ff 75.1%,#007cff 85.4%,#001dff 100.0%)"></i><i style="top:46px;height:2px;background:linear-gradient(90deg,#b90000 0.0%,#ea0000 9.1%,#ff0000 12.0%,#ff1000 14.3%,#ff4800 19.7%,#ffa600 27.8%,#ffff00 34.7%,#d7ff28 38.2%,#5dffa2 53.5%,#01fffe 67.9%,#00d1ff 75.1%,#0084ff 85.4%,#0024ff 100.0%)"></i><i style="top:48px;height:2px;background:linear-gradient(90deg,#b80000 0.0%,#e90000 9.1%,#fe0000 12.2%,#ff0d00 14.3%,#ff4500 19.7%,#ffa000 27.8%,#feff01 35.3%,#ddff22 38.2%,#63ff9c 53.5%,#00ffff 69.0%,#00d8ff 75.1%,#008cff 85.4%,#002bff 100.0%)"></i><i style="top:50px;height:2px;background:linear-gradient(90deg,#b70000 0.0%,#e80000 9.1%,#fe0000 12.5%,#ff0b00 14.3%,#ff4100 19.7%,#ff9900 27.8%,#feff01 35.9%,#e4ff1b 38.2%,#69ff96 53.5%,#00ffff 70.2%,#00e0ff 75.1%,#0094ff 85.4%,#0032ff 100.0%)"></i><i style="top:52px;height:2px;background:linear-gradient(90deg,#b60000 0.0%,#fe0000 12.8%,#ff0800 14.3%,#ff9300 27.8%,#feff01 36.5%,#eaff15 38.2%,#6eff91 53.5%,#00ffff 71.3%,#0039ff 100.0%)"></i><i style="top:54px;height:2px;background:linear-gradient(90deg,#b50000 0.0%,#ff0000 13.4%,#ff0500 14.3%,#ff8d00 27.8%,#feff01 37.0%,#f0ff0f 38.2%,#74ff8b 53.5%,#00ffff 72.5%,#003fff 100.0%)"></i><i style="top:56px;height:2px;background:linear-gradient(90deg,#b40000 0.0%,#ff0200 14.3%,#ff8600 27.8%,#fdff02 37.6%,#7aff85 53.5%,#00ffff 73.6%,#0046ff 100.0%)"></i><i style="top:58px;height:2px;background:linear-gradient(90deg,#b30000 0.0%,#ff0200 14.6%,#ff8000 27.8%,#fffe00 37.9%,#fdff02 38.2%,#80ff7f 53.5%,#01fffe 74.8%,#004dff 100.0%)"></i><i style="top:60px;height:2px;background:linear-gradient(90deg,#b30000 0.0%,#ff0000 14.6%,#ff7d00 27.8%,#fff900 37.9%,#feff01 38.8%,#85ff7a 53.5%,#00ffff 75.6%,#0052ff 100.0%)"></i><i style="top:62px;height:2px;background:linear-gradient(90deg,#b20000 0.0%,#ff0200 14.8%,#ff7900 27.8%,#fff400 37.9%,#feff01 39.3%,#8aff75 53.5%,#00ffff 76.2%,#0058ff 100.0%)"></i><i style="top:64px;height:2px;background:linear-gradient(90deg,#b20000 0.0%,#ff0000 14.8%,#ff7600 27.8%,#ffef00 37.9%,#feff01 39.9%,#8fff70 53.5%,#00ffff 76.8%,#005dff 100.0%)"></i><i style="top:66px;height:2px;background:linear-gradient(90deg,#b10000 0.0%,#ff0200 15.1%,#ff7300 27.8%,#ffea00 37.9%,#ffff00 40.5%,#94ff6b 53.5%,#01fffe 77.4%,#0062ff 100.0%)"></i><i style="top:68px;height:2px;background:linear-gradient(90deg,#b10000 0.0%,#ff0000 15.1%,#ff7000 27.8%,#ffe400 37.9%,#ffff00 41.1%,#99ff66 53.5%,#00feff 78.2%,#0067ff 100.0%)"></i><i style="top:70px;height:2px;background:linear-gradient(90deg,#b00000 0.0%,#ff0100 15.4%,#ff3300 21.5%,#ff6d00 27.8%,#ffdf00 37.9%,#fdff02 41.9%,#9eff61 53.5%,#00ffff 78.8%,#006cff 100.0%)"></i><i style="top:72px;height:2px;background:linear-gradient(90deg,#b00000 0.0%,#f60000 14.3%,#ff0000 15.4%,#ff3000 21.5%,#ff6900 27.8%,#ffda00 37.9%,#feff01 42.5%,#a3ff5c 53.5%,#00ffff 79.4%,#0071ff 100.0%)"></i><i style="top:74px;height:2px;background:linear-gradient(90deg,#af0000 0.0%,#f50000 14.3%,#ff0100 15.7%,#ff2e00 21.5%,#ff6600 27.8%,#ffd500 37.9%,#feff01 43.1%,#a9ff56 53.5%,#01fffe 80.0%,#0076ff 100.0%)"></i><i style="top:76px;height:2px;background:linear-gradient(90deg,#af0000 0.0%,#f40000 14.3%,#ff0100 16.0%,#ff2b00 21.5%,#ff6300 27.8%,#ffd000 37.9%,#feff01 43.7%,#aeff51 53.5%,#00ffff 80.8%,#007bff 100.0%)"></i><i style="top:78px;height:2px;background:linear-gradient(90deg,#ae0000 0.0%,#f20000 14.3%,#ff0000 16.0%,#ff2800 21.5%,#ff6000 27.8%,#ffcb00 37.9%,#ffff00 44.2%,#b3ff4c 53.5%,#01fffe 81.4%,#0081ff 100.0%)"></i><i style="top:80px;height:2px;background:linear-gradient(90deg,#ae0000 0.0%,#f10000 14.3%,#ff0000 16.3%,#ff2500 21.5%,#ff5d00 27.8%,#ffc600 37.9%,#ffff00 44.8%,#b8ff47 53.5%,#00feff 82.3%,#0086ff 100.0%)"></i><i style="top:82px;height:2px;background:linear-gradient(90deg,#ad0000 0.0%,#f00000 14.3%,#ff0100 16.6%,#ff2500 21.8%,#ff5900 27.8%,#ffc100 37.9%,#fdff02 45.7%,#bdff42 53.5%,#00ffff 82.9%,#008bff 100.0%)"></i><i style="top:84px;height:2px;background:linear-gradient(90deg,#ad0000 0.0%,#ef0000 14.3%,#ff0100 16.9%,#ff2200 21.8%,#ff5400 27.5%,#ffbc00 37.9%,#fdff02 46.3%,#c2ff3d 53.5%,#01fffe 83.4%,#0090ff 100.0%)"></i><i style="top:86px;height:2px;background:linear-gradient(90deg,#ac0000 0.0%,#ee0000 14.3%,#ff0100 17.1%,#ff1f00 21.8%,#ff5100 27.5%,#ffb600 37.9%,#feff01 46.8%,#c7ff38 53.5%,#00ffff 84.3%,#0095ff 100.0%)"></i><i style="top:88px;height:2px;background:linear-gradient(90deg,#ab0000 0.0%,#ec0000 14.3%,#ff0100 17.4%,#ff1d00 21.8%,#ff4d00 27.5%,#ffb100 37.9%,#feff01 47.4%,#ccff33 53.5%,#01fffe 84.9%,#009aff 100.0%)"></i><i style="top:90px;height:2px;background:linear-gradient(90deg,#ab0000 0.0%,#eb0000 14.3%,#ff0100 17.7%,#ff1a00 21.8%,#ff4d00 27.8%,#ffac00 37.9%,#ffff00 48.0%,#d0ff2f 53.7%,#00ffff 85.7%,#009fff 100.0%)"></i><i style="top:92px;height:2px;background:linear-gradient(90deg,#aa0000 0.0%,#ea0000 14.3%,#ff0100 18.0%,#ff1700 21.8%,#ff4a00 27.8%,#ffa700 37.9%,#ffff00 48.6%,#d5ff2a 53.7%,#01fffe 86.3%,#00a4ff 100.0%)"></i><i style="top:94px;height:2px;background:linear-gradient(90deg,#aa0000 0.0%,#e90000 14.3%,#ff0000 18.3%,#ff1400 21.8%,#ff4600 27.8%,#ffa200 37.9%,#ffff00 49.1%,#daff25 53.7%,#01fffe 87.2%,#00aaff 100.0%)"></i><i style="top:96px;height:2px;background:linear-gradient(90deg,#a90000 0.0%,#e80000 14.3%,#ff0000 18.6%,#ff1200 21.8%,#ff4300 27.8%,#ff9f00 38.2%,#fffe00 49.7%,#e1ff1e 53.5%,#66ff99 71.9%,#00ffff 88.0%,#00afff 100.0%)"></i><i style="top:98px;height:2px;background:linear-gradient(90deg,#a90000 0.0%,#ff0100 19.2%,#ff0f00 21.8%,#ff3e00 27.5%,#ff9800 37.9%,#fffe00 50.3%,#e4ff1b 53.7%,#6aff95 71.9%,#01fffe 88.6%,#00b4ff 100.0%)"></i><i style="top:100px;height:2px;background:linear-gradient(90deg,#a80000 0.0%,#e50000 14.3%,#ff0000 19.5%,#ff0a00 21.5%,#fffd00 50.9%,#6fff90 71.9%,#01fffe 89.5%,#00b9ff 100.0%)"></i><i style="top:102px;height:2px;background:linear-gradient(90deg,#a80000 0.0%,#fe0000 19.7%,#ff0700 21.5%,#ffff00 51.7%,#73ff8c 71.9%,#00ffff 90.3%,#00beff 100.0%)"></i><i style="top:104px;height:2px;background:linear-gradient(90deg,#a70000 0.0%,#fe0000 20.3%,#ff0500 21.5%,#ffff00 52.3%,#78ff87 71.9%,#01fffe 90.9%,#00c3ff 100.0%)"></i><i style="top:106px;height:2px;background:linear-gradient(90deg,#a70000 0.0%,#ff0200 21.5%,#ff8300 37.9%,#ffff00 52.9%,#7cff83 71.9%,#01fffe 91.8%,#00c8ff 100.0%)"></i><i style="top:108px;height:2px;background:linear-gradient(90deg,#a60000 0.0%,#ff0100 21.8%,#ff7f00 37.9%,#ffff00 53.5%,#80ff7f 71.9%,#01fffe 92.7%,#00cdff 100.0%)"></i><i style="top:110px;height:2px;background:linear-gradient(90deg,#a60000 0.0%,#ff0000 21.8%,#ff7c00 37.9%,#ffff00 54.0%,#84ff7b 71.9%,#01fffe 93.2%,#00d3ff 100.0%)"></i><i style="top:112px;height:2px;background:linear-gradient(90deg,#a50000 0.0%,#cb0000 9.9%,#fe0000 21.8%,#ff7a00 37.9%,#fffe00 54.3%,#88ff77 71.9%,#00ffff 94.1%,#00d8ff 100.0%)"></i><i style="top:114px;height:2px;background:linear-gradient(90deg,#a50000 0.0%,#ca0000 9.9%,#ff0000 22.0%,#ff7800 37.9%,#fffe00 54.9%,#8cff73 71.9%,#01fffe 94.7%,#00ddff 100.0%)"></i><i style="top:116px;height:2px;background:linear-gradient(90deg,#a40000 0.0%,#c80000 9.9%,#fe0000 22.0%,#ffff00 55.5%,#90ff6f 71.9%,#02fffd 95.2%,#00e2ff 100.0%)"></i><i style="top:118px;height:2px;background:linear-gradient(90deg,#a40000 0.0%,#c60000 9.9%,#ff0100 22.3%,#ffff00 56.1%,#95ff6a 71.9%,#01fffe 96.1%,#00e7ff 100.0%)"></i><i style="top:120px;height:2px;background:linear-gradient(90deg,#a30000 0.0%,#c50000 9.9%,#ff0000 22.3%,#fffe00 56.3%,#99ff66 71.9%,#00ffff 97.0%,#00ecff 100.0%)"></i><i style="top:122px;height:2px;background:linear-gradient(90deg,#a30000 0.0%,#c30000 9.9%,#ff0100 22.6%,#fffe00 56.9%,#9dff62 71.9%,#01fffe 97.6%,#00f1ff 100.0%)"></i><i style="top:124px;height:2px;background:linear-gradient(90deg,#a20000 0.0%,#c10000 9.9%,#ff0000 22.6%,#ff6e00 37.9%,#ffe400 53.5%,#ffff00 57.5%,#a1ff5e 71.9%,#00ffff 98.4%,#00f6ff 100.0%)"></i><i style="top:126px;height:2px;background:linear-gradient(90deg,#a20000 0.0%,#c00000 9.9%,#ff0100 22.9%,#ffe000 53.5%,#ffff00 58.1%,#a3ff5c 72.2%,#00ffff 99.3%,#00fbff 100.0%)"></i><i style="top:128px;height:2px;background:linear-gradient(90deg,#a10000 0.0%,#be0000 9.9%,#f50000 21.5%,#ff0000 22.9%,#ffdd00 53.5%,#ffff00 58.6%,#a9ff56 71.9%,#02fffd 100.0%)"></i><i style="top:130px;height:2px;background:linear-gradient(90deg,#a00000 0.0%,#bd0000 9.9%,#ff0100 23.2%,#ffda00 53.5%,#fffe00 58.9%,#adff52 71.9%,#07fff8 100.0%)"></i><i style="top:132px;height:2px;background:linear-gradient(90deg,#a00000 0.0%,#bb0000 9.9%,#f30000 21.5%,#fe0000 23.2%,#ffd600 53.5%,#fffe00 59.5%,#b1ff4e 71.9%,#0cfff3 100.0%)"></i><i style="top:134px;height:2px;background:linear-gradient(90deg,#9f0000 0.0%,#b90000 9.9%,#ff0000 23.5%,#ffd300 53.5%,#fffe00 60.1%,#b5ff4a 71.9%,#11ffee 100.0%)"></i><i style="top:136px;height:2px;background:linear-gradient(90deg,#9f0000 0.0%,#b80000 9.9%,#ff0100 23.8%,#ffd000 53.5%,#fffe00 60.7%,#b9ff46 71.9%,#16ffe9 100.0%)"></i><i style="top:138px;height:2px;background:linear-gradient(90deg,#9e0000 0.0%,#b60000 9.9%,#f00000 21.5%,#ff0000 23.8%,#ffcc00 53.5%,#ffff00 61.2%,#bbff44 72.2%,#1bffe4 100.0%)"></i><i style="top:140px;height:2px;background:linear-gradient(90deg,#9e0000 0.0%,#b40000 9.9%,#ff0100 24.1%,#ffc900 53.5%,#ffff00 61.8%,#bfff40 72.2%,#20ffdf 100.0%)"></i><i style="top:142px;height:2px;background:linear-gradient(90deg,#9d0000 0.0%,#b30000 9.9%,#ff0000 24.1%,#ffff00 62.4%,#c3ff3c 72.2%,#25ffda 100.0%)"></i><i style="top:144px;height:2px;background:linear-gradient(90deg,#9d0000 0.0%,#b10000 9.9%,#ff0000 24.4%,#ffff00 63.0%,#c7ff38 72.2%,#2affd5 100.0%)"></i><i style="top:146px;height:2px;background:linear-gradient(90deg,#9c0000 0.0%,#af0000 9.9%,#ff0100 24.6%,#ffff00 63.5%,#cbff34 72.2%,#30ffcf 100.0%)"></i><i style="top:148px;height:2px;background:linear-gradient(90deg,#9c0000 0.0%,#ae0000 9.9%,#ff0000 24.6%,#ffff00 64.1%,#6bff94 89.8%,#35ffca 100.0%)"></i><i style="top:150px;height:2px;background:linear-gradient(90deg,#9b0000 0.0%,#ac0000 9.9%,#ff0000 24.9%,#ffff00 64.7%,#70ff8f 89.8%,#3affc5 100.0%)"></i><i style="top:152px;height:2px;background:linear-gradient(90deg,#9b0000 0.0%,#aa0000 9.9%,#ff0100 25.2%,#ffff00 65.3%,#73ff8c 90.1%,#3fffc0 100.0%)"></i><i style="top:154px;height:2px;background:linear-gradient(90deg,#9a0000 0.0%,#a90000 9.9%,#fe0000 25.2%,#ffff00 65.9%,#77ff88 90.1%,#44ffbb 100.0%)"></i><i style="top:156px;height:2px;background:linear-gradient(90deg,#9a0000 0.0%,#a70000 9.9%,#ff0000 25.5%,#fffe00 66.4%,#7cff83 90.1%,#49ffb6 100.0%)"></i><i style="top:158px;height:2px;background:linear-gradient(90deg,#990000 0.0%,#a60000 9.9%,#ff0000 25.8%,#ffff00 67.0%,#80ff7f 90.1%,#4effb1 100.0%)"></i><i style="top:160px;height:2px;background:linear-gradient(90deg,#990000 0.0%,#a50000 9.9%,#ff0000 25.8%,#fffe00 67.3%,#82ff7d 90.1%,#51ffae 100.0%)"></i><i style="top:162px;height:2px;background:linear-gradient(90deg,#990000 0.0%,#a50000 9.9%,#ff0000 26.1%,#fffe00 67.6%,#85ff7a 90.1%,#54ffab 100.0%)"></i><i style="top:164px;height:2px;background:linear-gradient(90deg,#990000 0.0%,#a50000 9.9%,#ff0000 26.1%,#ffff00 68.2%,#88ff77 90.1%,#57ffa8 100.0%)"></i><i style="top:166px;height:2px;background:linear-gradient(90deg,#980000 0.0%,#a50000 9.9%,#ff0000 26.4%,#ffff00 68.4%,#8bff74 90.1%,#5affa5 100.0%)"></i><i style="top:168px;height:2px;background:linear-gradient(90deg,#980000 0.0%,#a40000 9.9%,#ff0000 26.4%,#fffe00 68.7%,#8dff72 90.1%,#5dffa2 100.0%)"></i><i style="top:170px;height:2px;background:linear-gradient(90deg,#980000 0.0%,#a40000 9.9%,#ff0000 26.7%,#fffe00 69.0%,#90ff6f 90.1%,#60ff9f 100.0%)"></i><i style="top:172px;height:2px;background:linear-gradient(90deg,#980000 0.0%,#a50000 10.2%,#fe0000 26.7%,#ffff00 69.6%,#94ff6b 89.8%,#63ff9c 100.0%)"></i><i style="top:174px;height:2px;background:linear-gradient(90deg,#970000 0.0%,#a50000 10.2%,#ff0000 26.9%,#ffff00 69.9%,#96ff69 90.1%,#66ff99 100.0%)"></i><i style="top:176px;height:2px;background:linear-gradient(90deg,#970000 0.0%,#a40000 10.2%,#ff0100 27.2%,#fffe00 70.2%,#98ff67 90.1%,#69ff96 100.0%)"></i><i style="top:178px;height:2px;background:linear-gradient(90deg,#970000 0.0%,#a40000 10.2%,#ff0000 27.2%,#fffe00 70.5%,#9bff64 90.1%,#6dff92 100.0%)"></i><i style="top:180px;height:2px;background:linear-gradient(90deg,#970000 0.0%,#a60000 10.8%,#ff0100 27.5%,#ffff00 71.0%,#9fff60 89.8%,#70ff8f 100.0%)"></i><i style="top:182px;height:2px;background:linear-gradient(90deg,#970000 0.0%,#a50000 10.8%,#ff0000 27.5%,#fffe00 71.3%,#a2ff5d 89.8%,#73ff8c 100.0%)"></i><i style="top:184px;height:2px;background:linear-gradient(90deg,#960000 0.0%,#a50000 10.8%,#ff0000 27.8%,#fffe00 71.6%,#76ff89 100.0%)"></i><i style="top:186px;height:2px;background:linear-gradient(90deg,#960000 0.0%,#a50000 10.8%,#ff0100 28.1%,#ffff00 72.2%,#a8ff57 89.8%,#79ff86 100.0%)"></i><i style="top:188px;height:2px;background:linear-gradient(90deg,#960000 0.0%,#a50000 11.1%,#ff0000 28.1%,#ffff00 72.5%,#7cff83 100.0%)"></i><i style="top:190px;height:2px;background:linear-gradient(90deg,#960000 0.0%,#a50000 11.1%,#ff0100 28.4%,#fffe00 72.8%,#7fff80 100.0%)"></i><i style="top:192px;height:2px;background:linear-gradient(90deg,#960000 0.0%,#a40000 11.1%,#ff0000 28.4%,#fffe00 73.1%,#82ff7d 100.0%)"></i><i style="top:194px;height:2px;background:linear-gradient(90deg,#950000 0.0%,#a40000 11.1%,#ff0000 28.7%,#ff8a00 52.6%,#ffff00 73.6%,#85ff7a 100.0%)"></i><i style="top:196px;height:2px;background:linear-gradient(90deg,#950000 0.0%,#a40000 11.1%,#ff0100 29.0%,#ff8900 52.6%,#fffe00 73.9%,#88ff77 100.0%)"></i><i style="top:198px;height:2px;background:linear-gradient(90deg,#950000 0.0%,#a30000 11.1%,#ff0000 29.0%,#ff8700 52.6%,#fffe00 74.2%,#8bff74 100.0%)"></i><i style="top:200px;height:2px;background:linear-gradient(90deg,#950000 0.0%,#a30000 11.1%,#ff0000 29.3%,#ff8600 52.6%,#ffff00 74.8%,#8eff71 100.0%)"></i><i style="top:202px;height:2px;background:linear-gradient(90deg,#950000 0.0%,#a20000 11.1%,#ff0100 29.5%,#ff8400 52.6%,#fffe00 75.1%,#91ff6e 100.0%)"></i><i style="top:204px;height:2px;background:linear-gradient(90deg,#940000 0.0%,#a20000 11.1%,#ff0100 29.8%,#ff8300 52.6%,#ffff00 75.6%,#94ff6b 100.0%)"></i><i style="top:206px;height:2px;background:linear-gradient(90deg,#940000 0.0%,#a10000 11.1%,#ff0100 30.1%,#ff8100 52.6%,#ffff00 75.9%,#98ff67 100.0%)"></i><i style="top:208px;height:2px;background:linear-gradient(90deg,#940000 0.0%,#a10000 11.1%,#ff0000 30.1%,#ff8000 52.6%,#ffff00 76.2%,#9aff65 100.0%)"></i><i style="top:210px;height:2px;background:linear-gradient(90deg,#940000 0.0%,#a10000 11.1%,#ff0200 30.4%,#ff7e00 52.6%,#ffff00 76.8%,#9cff63 100.0%)"></i><i style="top:212px;height:2px;background:linear-gradient(90deg,#940000 0.0%,#a10000 11.1%,#ff0100 30.4%,#ff7d00 52.6%,#ffff00 77.1%,#9eff61 100.0%)"></i><i style="top:214px;height:2px;background:linear-gradient(90deg,#940000 0.0%,#a10000 11.1%,#ff0000 30.4%,#ff7c00 52.6%,#fffe00 77.4%,#a0ff5f 100.0%)"></i><i style="top:216px;height:2px;background:linear-gradient(90deg,#940000 0.0%,#a00000 11.1%,#ff0100 30.7%,#ff7b00 52.6%,#ffff00 78.0%,#a2ff5d 100.0%)"></i><i style="top:218px;height:2px;background:linear-gradient(90deg,#940000 0.0%,#a00000 11.1%,#ff0100 30.7%,#ff7a00 52.6%,#fffe00 78.2%,#a4ff5b 100.0%)"></i><i style="top:220px;height:2px;background:linear-gradient(90deg,#930000 0.0%,#a00000 11.1%,#ff0000 30.7%,#ff7800 52.6%,#ffff00 78.8%,#a6ff59 100.0%)"></i><i style="top:222px;height:2px;background:linear-gradient(90deg,#930000 0.0%,#a00000 11.1%,#ff0100 31.0%,#ff9700 58.6%,#fffe00 79.1%,#a8ff57 100.0%)"></i><i style="top:224px;height:2px;background:linear-gradient(90deg,#930000 0.0%,#a00000 11.1%,#ff0100 31.0%,#ff9600 58.6%,#ffff00 79.7%,#aaff55 100.0%)"></i><i style="top:226px;height:2px;background:linear-gradient(90deg,#930000 0.0%,#a00000 11.1%,#ff0000 31.0%,#ff9400 58.6%,#fffe00 80.0%,#acff53 100.0%)"></i><i style="top:228px;height:2px;background:linear-gradient(90deg,#930000 0.0%,#a20000 12.0%,#ff0100 31.3%,#ff9300 58.6%,#ffff00 80.5%,#aeff51 100.0%)"></i><i style="top:230px;height:2px;background:linear-gradient(90deg,#930000 0.0%,#a20000 12.0%,#ff0000 31.3%,#ff9200 58.6%,#ffff00 80.8%,#b0ff4f 100.0%)"></i><i style="top:232px;height:2px;background:linear-gradient(90deg,#930000 0.0%,#a20000 12.0%,#ff0100 31.6%,#ff9100 58.6%,#fffe00 81.1%,#b2ff4d 100.0%)"></i><i style="top:234px;height:2px;background:linear-gradient(90deg,#930000 0.0%,#a20000 12.0%,#ff0100 31.6%,#ff8f00 58.6%,#ffff00 81.7%,#b4ff4b 100.0%)"></i><i style="top:236px;height:2px;background:linear-gradient(90deg,#930000 0.0%,#a10000 12.0%,#ff0000 31.6%,#ff8e00 58.6%,#fffe00 82.0%,#b6ff49 100.0%)"></i><i style="top:238px;height:2px;background:linear-gradient(90deg,#930000 0.0%,#a10000 12.0%,#ff0100 31.8%,#ff8d00 58.6%,#fffe00 82.3%,#b8ff47 100.0%)"></i><i style="top:240px;height:2px;background:linear-gradient(90deg,#920000 0.0%,#a10000 12.0%,#ff0000 31.8%,#ff8b00 58.6%,#ffff00 82.9%,#baff45 100.0%)"></i><i style="top:242px;height:2px;background:linear-gradient(90deg,#920000 0.0%,#a00000 12.0%,#ff0100 32.1%,#ff8a00 58.6%,#fffe00 83.1%,#bcff43 100.0%)"></i><i style="top:244px;height:2px;background:linear-gradient(90deg,#920000 0.0%,#a00000 12.0%,#ff0100 32.1%,#ff8900 58.6%,#ffff00 83.7%,#beff41 100.0%)"></i><i style="top:246px;height:2px;background:linear-gradient(90deg,#920000 0.0%,#a00000 12.0%,#ff0000 32.1%,#ff8700 58.6%,#ffff00 84.0%,#c0ff3f 100.0%)"></i><i style="top:248px;height:2px;background:linear-gradient(90deg,#920000 0.0%,#a00000 12.0%,#ff0100 32.4%,#ff8600 58.6%,#fffe00 84.3%,#c2ff3d 100.0%)"></i><i style="top:250px;height:2px;background:linear-gradient(90deg,#920000 0.0%,#9f0000 12.0%,#ff0000 32.4%,#ff8500 58.6%,#ffff00 84.9%,#c4ff3b 100.0%)"></i><i style="top:252px;height:2px;background:linear-gradient(90deg,#920000 0.0%,#9f0000 12.0%,#ff0100 32.7%,#ff8400 58.6%,#ffff00 85.2%,#c6ff39 100.0%)"></i><i style="top:254px;height:2px;background:linear-gradient(90deg,#920000 0.0%,#9f0000 12.0%,#ff0000 32.7%,#ff8200 58.6%,#fffe00 85.4%,#c8ff37 100.0%)"></i><i style="top:256px;height:2px;background:linear-gradient(90deg,#920000 0.0%,#9e0000 12.0%,#ff0100 33.0%,#ff8100 58.6%,#ffff00 86.0%,#caff35 100.0%)"></i><i style="top:258px;height:2px;background:linear-gradient(90deg,#920000 0.0%,#9e0000 12.0%,#ff0000 33.0%,#ff8000 58.6%,#ffff00 86.3%,#ccff33 100.0%)"></i><i style="top:260px;height:2px;background:linear-gradient(90deg,#910000 0.0%,#9e0000 12.0%,#ff0100 33.3%,#ff7f00 58.6%,#ffff00 86.6%,#cdff32 100.0%)"></i><i style="top:262px;height:2px;background:linear-gradient(90deg,#910000 0.0%,#9e0000 12.0%,#ff0000 33.3%,#ff7e00 58.6%,#ffff00 86.9%,#ceff31 100.0%)"></i><i style="top:264px;height:2px;background:linear-gradient(90deg,#910000 0.0%,#9d0000 12.0%,#ff0100 33.6%,#ff7d00 58.6%,#fffe00 86.9%,#ceff31 100.0%)"></i><i style="top:266px;height:2px;background:linear-gradient(90deg,#910000 0.0%,#9d0000 12.0%,#ff0100 33.6%,#ff7c00 58.6%,#fffe00 87.2%,#cfff30 100.0%)"></i><i style="top:268px;height:2px;background:linear-gradient(90deg,#900000 0.0%,#9d0000 12.0%,#ff0000 33.6%,#ff7b00 58.6%,#ffff00 87.5%,#cfff30 100.0%)"></i><i style="top:270px;height:2px;background:linear-gradient(90deg,#900000 0.0%,#9d0000 12.0%,#ff0100 33.9%,#ff7a00 58.6%,#ffff00 87.8%,#d0ff2f 100.0%)"></i><i style="top:272px;height:2px;background:linear-gradient(90deg,#900000 0.0%,#9c0000 12.0%,#ff0000 33.9%,#ff7900 58.6%,#fffe00 87.8%,#d1ff2e 100.0%)"></i><i style="top:274px;height:2px;background:linear-gradient(90deg,#900000 0.0%,#9c0000 12.0%,#ff0100 34.1%,#ff7800 58.6%,#fffe00 88.0%,#d1ff2e 100.0%)"></i><i style="top:276px;height:2px;background:linear-gradient(90deg,#8f0000 0.0%,#9c0000 12.0%,#ff0000 34.1%,#ff7700 58.6%,#ffff00 88.3%,#d2ff2d 100.0%)"></i><i style="top:278px;height:2px;background:linear-gradient(90deg,#8f0000 0.0%,#9c0000 12.0%,#ff0100 34.4%,#ff7600 58.6%,#fffe00 88.3%,#d2ff2d 100.0%)"></i><i style="top:280px;height:2px;background:linear-gradient(90deg,#8f0000 0.0%,#9b0000 12.0%,#ff0000 34.4%,#ff7500 58.6%,#fffe00 88.6%,#d3ff2c 100.0%)"></i><i style="top:282px;height:2px;background:linear-gradient(90deg,#8f0000 0.0%,#9b0000 12.0%,#ff0100 34.7%,#ff7500 58.9%,#ffff00 88.9%,#d4ff2b 100.0%)"></i><i style="top:284px;height:2px;background:linear-gradient(90deg,#8e0000 0.0%,#9b0000 12.0%,#ff0000 34.7%,#ff7400 58.9%,#fffe00 88.9%,#d4ff2b 100.0%)"></i><i style="top:286px;height:2px;background:linear-gradient(90deg,#8e0000 0.0%,#9b0000 12.0%,#fe0000 34.7%,#fffe00 89.2%,#d5ff2a 100.0%)"></i><i style="top:288px;height:2px;background:linear-gradient(90deg,#8e0000 0.0%,#9a0000 12.0%,#ff0000 35.0%,#ffff00 89.5%,#d5ff2a 100.0%)"></i><i style="top:290px;height:2px;background:linear-gradient(90deg,#8e0000 0.0%,#9a0000 12.0%,#ff0100 35.3%,#fffe00 89.5%,#d6ff29 100.0%)"></i><i style="top:292px;height:2px;background:linear-gradient(90deg,#8d0000 0.0%,#9a0000 12.0%,#ff0000 35.3%,#ffff00 89.8%,#d7ff28 100.0%)"></i><i style="top:294px;height:2px;background:linear-gradient(90deg,#8d0000 0.0%,#9a0000 12.0%,#ff0100 35.6%,#ffff00 90.1%,#d7ff28 100.0%)"></i><i style="top:296px;height:2px;background:linear-gradient(90deg,#8d0000 0.0%,#9a0000 12.0%,#ff0000 35.6%,#fffe00 90.1%,#d8ff27 100.0%)"></i><i style="top:298px;height:2px;background:linear-gradient(90deg,#8d0000 0.0%,#990000 12.0%,#ff0000 35.9%,#ffff00 90.3%,#d9ff26 100.0%)"></i><i style="top:300px;height:2px;background:linear-gradient(90deg,#8c0000 0.0%,#990000 12.0%,#ff0000 35.9%,#fffe00 90.3%,#d9ff26 100.0%)"></i><i style="top:302px;height:2px;background:linear-gradient(90deg,#8c0000 0.0%,#990000 12.0%,#fe0000 35.9%,#ffff00 90.6%,#d9ff26 100.0%)"></i><i style="top:304px;height:2px;background:linear-gradient(90deg,#8c0000 0.0%,#990000 12.0%,#fe0000 35.9%,#ffff00 90.6%,#d9ff26 100.0%)"></i><i style="top:306px;height:2px;background:linear-gradient(90deg,#8c0000 0.0%,#990000 12.0%,#fe0000 35.9%,#ffff00 90.6%,#d9ff26 100.0%)"></i><i style="top:308px;height:2px;background:linear-gradient(90deg,#8c0000 0.0%,#990000 12.0%,#fe0000 35.9%,#ffff00 90.6%,#d9ff26 100.0%)"></i><i style="top:310px;height:1px;background:linear-gradient(90deg,#8c0000 0.0%,#990000 12.0%,#fe0000 35.9%,#ffff00 90.6%,#d9ff26 100.0%)"></i></div>
<svg width="971" height="1142" viewBox="0 0 971 1142" style="position:absolute;left:0;top:0" font-family='"Liberation Sans", sans-serif'>
<defs>
<linearGradient id="gbody" x1="0" x2="1" y1="0" y2="0">
<stop offset="0" stop-color="#2c3e88"/><stop offset="0.12" stop-color="#23306a"/><stop offset="0.35" stop-color="#2a3e82"/>
<stop offset="0.62" stop-color="#3450a0"/><stop offset="0.85" stop-color="#33509c"/><stop offset="0.96" stop-color="#2b418f"/><stop offset="1" stop-color="#34489a"/>
</linearGradient>
<linearGradient id="gbodym" x1="0" x2="1" y1="0" y2="0">
<stop offset="0" stop-color="#737a9a"/><stop offset="0.15" stop-color="#6c7290"/><stop offset="0.6" stop-color="#7a81a3"/><stop offset="1" stop-color="#747b9e"/>
</linearGradient>
<linearGradient id="ghole" x1="0" x2="1" y1="0" y2="1"><stop offset="0" stop-color="#4f4658"/><stop offset="1" stop-color="#6e6878"/></linearGradient>
<linearGradient id="gplane" x1="0" x2="1" y1="0" y2="0"><stop offset="0" stop-color="#c9c9c9"/><stop offset="1" stop-color="#bdbdbd"/></linearGradient>
<filter id="blur1" filterUnits="userSpaceOnUse" x="0" y="0" width="971" height="1142"><feGaussianBlur stdDeviation="1.2"/></filter>
<filter id="blur2" filterUnits="userSpaceOnUse" x="0" y="0" width="971" height="1142"><feGaussianBlur stdDeviation="2"/></filter>
<filter id="blur05" filterUnits="userSpaceOnUse" x="0" y="0" width="971" height="1142"><feGaussianBlur stdDeviation="0.6"/></filter>
<clipPath id="clipb"><rect x="402" y="15" width="270" height="241"/></clipPath>
<clipPath id="clipc"><rect x="689" y="15" width="273" height="240"/></clipPath>
</defs>
<path d="M44.5 50.0 L44.5 249.0 A67.0 15.5 0 0 0 178.5 249.0 L178.5 50.0 Z" fill="url(#gbody)"/><ellipse cx="111.5" cy="50.0" rx="67.0" ry="17.7" fill="#2a3c96"/><ellipse cx="111.5" cy="50.1" rx="60.9" ry="16.1" fill="#3db0e6"/><ellipse cx="111.5" cy="50.2" rx="54.7" ry="14.5" fill="#2d2f92"/><ellipse cx="111.5" cy="50.4" rx="48.6" ry="12.8" fill="#3db0e6"/><ellipse cx="111.5" cy="50.5" rx="42.4" ry="11.2" fill="#2d2f92"/><ellipse cx="111.5" cy="50.6" rx="36.3" ry="9.6" fill="#3db0e6"/><ellipse cx="111.5" cy="50.7" rx="30.2" ry="8.0" fill="#2d2f92"/><ellipse cx="111.5" cy="50.9" rx="24.0" ry="6.3" fill="#3db0e6"/><ellipse cx="111.5" cy="51.0" rx="17.9" ry="4.7" fill="url(#ghole)"/>
<path d="M218.7 50.0 L218.7 249.0 A67.0 15.5 0 0 0 352.7 249.0 L352.7 50.0 Z" fill="url(#gbody)"/><ellipse cx="285.7" cy="50.0" rx="67.0" ry="17.7" fill="#2a3c96"/><ellipse cx="285.7" cy="50.1" rx="60.9" ry="16.1" fill="#3db0e6"/><ellipse cx="285.7" cy="50.2" rx="54.7" ry="14.5" fill="#2d2f92"/><ellipse cx="285.7" cy="50.4" rx="48.6" ry="12.8" fill="#3db0e6"/><ellipse cx="285.7" cy="50.5" rx="42.4" ry="11.2" fill="#2d2f92"/><ellipse cx="285.7" cy="50.6" rx="36.3" ry="9.6" fill="#3db0e6"/><ellipse cx="285.7" cy="50.7" rx="30.2" ry="8.0" fill="#2d2f92"/><ellipse cx="285.7" cy="50.9" rx="24.0" ry="6.3" fill="#3db0e6"/><ellipse cx="285.7" cy="51.0" rx="17.9" ry="4.7" fill="url(#ghole)"/>
<path d="M93.6 26.8H129.4M93.6 23V31M129.4 23V31" stroke="#1e1e1e" stroke-width="2" fill="none"/>
<path d="M218.1 26.4H353.4M218.1 22.7V30.9M353.4 22.7V30.9" stroke="#1e1e1e" stroke-width="2" fill="none"/>
<path d="M179.3 126.5H217.5M179.3 122.8V130.5M217.5 122.8V130.5" stroke="#1e1e1e" stroke-width="2" fill="none"/>
<path d="M108 186H285M108 182V190M285 182V190" stroke="#1e1e1e" stroke-width="2" fill="none"/>
<path d="M372.8 50.3V248.4M368.7 50.3H376.9M368.7 248.4H376.9" stroke="#1e1e1e" stroke-width="2" fill="none"/>
<text x="102.5" y="17.7" font-size="22.0" text-anchor="start" fill="#000" font-weight="normal" font-style="italic" >D</text>
<text x="118.8" y="23.9" font-size="17.0" text-anchor="start" fill="#000" font-weight="normal" font-style="italic" >c</text>
<text x="275.0" y="17.5" font-size="20.5" text-anchor="start" fill="#000" font-weight="normal" font-style="italic" >D</text>
<text x="289.5" y="22.7" font-size="16.0" text-anchor="start" fill="#000" font-weight="normal" font-style="italic" >t</text>
<text x="192.0" y="117.9" font-size="27.0" text-anchor="start" fill="#000" font-weight="normal" font-style="italic" >a</text>
<text x="191.5" y="178.0" font-size="27.0" text-anchor="start" fill="#000" font-weight="normal" font-style="italic" >g</text>
<text x="378.0" y="156.5" font-size="20.0" text-anchor="start" fill="#000" font-weight="normal" font-style="italic" >L</text>
<text x="-0.5" y="300.1" font-size="29.6" text-anchor="start" fill="#000" font-weight="normal" font-style="normal" textLength="33.5" lengthAdjust="spacingAndGlyphs" stroke="#000" stroke-width="0.35">(a)</text>
<text x="396.3" y="300.2" font-size="29.6" text-anchor="start" fill="#000" font-weight="normal" font-style="normal" textLength="35.5" lengthAdjust="spacingAndGlyphs" stroke="#000" stroke-width="0.35">(b)</text>
<text x="920.0" y="300.1" font-size="29.6" text-anchor="start" fill="#000" font-weight="normal" font-style="normal" textLength="31.8" lengthAdjust="spacingAndGlyphs" stroke="#000" stroke-width="0.35">(c)</text>
<text x="-1.1" y="707.2" font-size="29.6" text-anchor="start" fill="#000" font-weight="normal" font-style="normal" textLength="34.7" lengthAdjust="spacingAndGlyphs" stroke="#000" stroke-width="0.35">(d)</text>
<text x="470.3" y="707.2" font-size="29.6" text-anchor="start" fill="#000" font-weight="normal" font-style="normal" textLength="34.5" lengthAdjust="spacingAndGlyphs" stroke="#000" stroke-width="0.35">(e)</text>
<text x="2.0" y="1121.1" font-size="29.6" text-anchor="start" fill="#000" font-weight="normal" font-style="normal" textLength="28.9" lengthAdjust="spacingAndGlyphs" stroke="#000" stroke-width="0.35">(f)</text>
<text x="470.6" y="1125.7" font-size="29.6" textLength="33.5" lengthAdjust="spacingAndGlyphs" stroke="#000" stroke-width="0.35">(<tspan font-family="'Liberation Serif', serif" font-size="31">g</tspan>)</text>
<defs><linearGradient id="gtopb" x1="0" x2="0" y1="0" y2="1"><stop offset="0" stop-color="#8a8a8a"/><stop offset="1" stop-color="#979797"/></linearGradient><linearGradient id="gpil" x1="0" x2="0" y1="0" y2="1"><stop offset="0" stop-color="#9e9e9e"/><stop offset="0.08" stop-color="#ababab"/><stop offset="0.2" stop-color="#d0d0d0"/><stop offset="0.45" stop-color="#dcdcdc"/><stop offset="1" stop-color="#d8d8d8"/></linearGradient><linearGradient id="grec" x1="0" x2="0" y1="0" y2="1"><stop offset="0" stop-color="#989898"/><stop offset="0.15" stop-color="#b0b0b0"/><stop offset="0.5" stop-color="#bababa"/><stop offset="1" stop-color="#b2b2b2"/></linearGradient><linearGradient id="gsub" x1="0" x2="0" y1="0" y2="1"><stop offset="0" stop-color="#c0c0c0"/><stop offset="0.3" stop-color="#b0b0b0"/><stop offset="1" stop-color="#a2a2a2"/></linearGradient><linearGradient id="gchunk" x1="0" x2="1" y1="0" y2="1"><stop offset="0" stop-color="#d0d0d0"/><stop offset="1" stop-color="#bdbdbd"/></linearGradient><radialGradient id="gdon" cx="0.5" cy="0.5" r="0.5"><stop offset="0.3" stop-color="#efefef"/><stop offset="0.37" stop-color="#cdcdcd"/><stop offset="0.55" stop-color="#d5d5d5"/><stop offset="0.85" stop-color="#e0e0e0"/><stop offset="0.96" stop-color="#d8d8d8"/><stop offset="1" stop-color="#909090"/></radialGradient></defs>
<g clip-path="url(#clipb)">
<rect x="402" y="15" width="270" height="241" fill="#a8a8a8"/>
<rect x="402" y="15" width="270" height="40" fill="url(#gtopb)"/>
<rect x="402" y="200" width="270" height="56" fill="url(#gsub)"/>
<rect x="396" y="52" width="54" height="158" rx="7" fill="url(#gpil)" filter="url(#blur05)"/>
<rect x="497" y="52" width="69" height="158" rx="7" fill="url(#gpil)" filter="url(#blur05)"/>
<rect x="568" y="52" width="66" height="158" rx="7" fill="url(#gpil)" filter="url(#blur05)"/>
<rect x="635" y="52" width="49" height="158" rx="7" fill="url(#gpil)" filter="url(#blur05)"/>
<path d="M449 52 L498 52 L498 198 Q498 209 487 209 L460 209 Q449 209 449 198 Z" fill="url(#grec)" filter="url(#blur05)"/>
<path d="M446 72 V204 M501 72 V204" stroke="#f4f4f4" stroke-width="7" stroke-linecap="round" filter="url(#blur2)"/>
<path d="M452 211 Q473 215 495 211" stroke="#d8d8d8" stroke-width="3" fill="none" filter="url(#blur1)"/>
<path d="M566.5 60 V200 M633.5 60 V205" stroke="#707070" stroke-width="2.2" opacity="0.8" filter="url(#blur05)"/>
<path d="M567 160 L570.5 200 L563.5 200 Z M634 160 L637.5 206 L630.5 206 Z" fill="#585858" filter="url(#blur1)"/>
<path d="M402 55 Q420 46 440 52 T480 50 T520 49 T560 52 T600 49 T640 50 T672 48" stroke="#c9c9c9" stroke-width="2.2" fill="none" filter="url(#blur05)"/>
<ellipse cx="418" cy="203" rx="20" ry="19" fill="#cbcbcb" filter="url(#blur1)"/>
<ellipse cx="527" cy="199" rx="19" ry="17" fill="#cdcdcd" filter="url(#blur1)"/>
<path d="M548 256 L565 208 L596 203 L610 200 L644 211 L672 214 L672 256 Z" fill="url(#gchunk)" filter="url(#blur05)"/>
<path d="M566 256 L611 201" stroke="#e6e6e6" stroke-width="1.5" filter="url(#blur05)"/>
</g>
<rect x="401.5" y="14.5" width="271" height="242" fill="none" stroke="#000" stroke-width="1.5"/>
<rect x="408.3" y="239.5" width="90" height="5.2" fill="#fff"/>
<text x="508.6" y="248.7" font-size="26.0" text-anchor="start" fill="#fff" font-weight="bold" font-style="normal" textLength="57.5" lengthAdjust="spacingAndGlyphs" >1 µm</text>
<g clip-path="url(#clipc)">
<rect x="689" y="15" width="273" height="240" fill="#080808"/>
<circle cx="686.6" cy="26.9" r="25.8" fill="url(#gdon)"/><circle cx="686.6" cy="26.9" r="7.9" fill="#060606"/>
<circle cx="739.5" cy="23.9" r="25.8" fill="url(#gdon)"/><circle cx="739.5" cy="23.9" r="7.9" fill="#060606"/>
<circle cx="792.5" cy="20.9" r="25.8" fill="url(#gdon)"/><circle cx="792.5" cy="20.9" r="7.9" fill="#060606"/>
<circle cx="845.4" cy="17.9" r="25.8" fill="url(#gdon)"/><circle cx="845.4" cy="17.9" r="7.9" fill="#060606"/>
<circle cx="898.4" cy="14.9" r="25.8" fill="url(#gdon)"/><circle cx="898.4" cy="14.9" r="7.9" fill="#060606"/>
<circle cx="951.3" cy="11.9" r="25.8" fill="url(#gdon)"/><circle cx="951.3" cy="11.9" r="7.9" fill="#060606"/>
<circle cx="662.4" cy="74.8" r="25.8" fill="url(#gdon)"/><circle cx="662.4" cy="74.8" r="7.9" fill="#060606"/>
<circle cx="715.3" cy="71.8" r="25.8" fill="url(#gdon)"/><circle cx="715.3" cy="71.8" r="7.9" fill="#060606"/>
<circle cx="768.3" cy="68.8" r="25.8" fill="url(#gdon)"/><circle cx="768.3" cy="68.8" r="7.9" fill="#060606"/>
<circle cx="821.2" cy="65.8" r="25.8" fill="url(#gdon)"/><circle cx="821.2" cy="65.8" r="7.9" fill="#060606"/>
<circle cx="874.2" cy="62.8" r="25.8" fill="url(#gdon)"/><circle cx="874.2" cy="62.8" r="7.9" fill="#060606"/>
<circle cx="927.1" cy="59.8" r="25.8" fill="url(#gdon)"/><circle cx="927.1" cy="59.8" r="7.9" fill="#060606"/>
<circle cx="980.1" cy="56.8" r="25.8" fill="url(#gdon)"/><circle cx="980.1" cy="56.8" r="7.9" fill="#060606"/>
<circle cx="691.1" cy="119.7" r="25.8" fill="url(#gdon)"/><circle cx="691.1" cy="119.7" r="7.9" fill="#060606"/>
<circle cx="744.1" cy="116.7" r="25.8" fill="url(#gdon)"/><circle cx="744.1" cy="116.7" r="7.9" fill="#060606"/>
<circle cx="797.0" cy="113.7" r="25.8" fill="url(#gdon)"/><circle cx="797.0" cy="113.7" r="7.9" fill="#060606"/>
<circle cx="850.0" cy="110.7" r="25.8" fill="url(#gdon)"/><circle cx="850.0" cy="110.7" r="7.9" fill="#060606"/>
<circle cx="902.9" cy="107.7" r="25.8" fill="url(#gdon)"/><circle cx="902.9" cy="107.7" r="7.9" fill="#060606"/>
<circle cx="955.9" cy="104.7" r="25.8" fill="url(#gdon)"/><circle cx="955.9" cy="104.7" r="7.9" fill="#060606"/>
<circle cx="666.9" cy="167.6" r="25.8" fill="url(#gdon)"/><circle cx="666.9" cy="167.6" r="7.9" fill="#060606"/>
<circle cx="719.9" cy="164.6" r="25.8" fill="url(#gdon)"/><circle cx="719.9" cy="164.6" r="7.9" fill="#060606"/>
<circle cx="772.8" cy="161.6" r="25.8" fill="url(#gdon)"/><circle cx="772.8" cy="161.6" r="7.9" fill="#060606"/>
<circle cx="825.8" cy="158.6" r="25.8" fill="url(#gdon)"/><circle cx="825.8" cy="158.6" r="7.9" fill="#060606"/>
<circle cx="878.7" cy="155.6" r="25.8" fill="url(#gdon)"/><circle cx="878.7" cy="155.6" r="7.9" fill="#060606"/>
<circle cx="931.7" cy="152.6" r="25.8" fill="url(#gdon)"/><circle cx="931.7" cy="152.6" r="7.9" fill="#060606"/>
<circle cx="984.6" cy="149.6" r="25.8" fill="url(#gdon)"/><circle cx="984.6" cy="149.6" r="7.9" fill="#060606"/>
<circle cx="695.7" cy="212.6" r="25.8" fill="url(#gdon)"/><circle cx="695.7" cy="212.6" r="7.9" fill="#060606"/>
<circle cx="748.6" cy="209.6" r="25.8" fill="url(#gdon)"/><circle cx="748.6" cy="209.6" r="7.9" fill="#060606"/>
<circle cx="801.6" cy="206.6" r="25.8" fill="url(#gdon)"/><circle cx="801.6" cy="206.6" r="7.9" fill="#060606"/>
<circle cx="854.5" cy="203.6" r="25.8" fill="url(#gdon)"/><circle cx="854.5" cy="203.6" r="7.9" fill="#060606"/>
<circle cx="907.5" cy="200.6" r="25.8" fill="url(#gdon)"/><circle cx="907.5" cy="200.6" r="7.9" fill="#060606"/>
<circle cx="960.4" cy="197.6" r="25.8" fill="url(#gdon)"/><circle cx="960.4" cy="197.6" r="7.9" fill="#060606"/>
<circle cx="671.5" cy="260.5" r="25.8" fill="url(#gdon)"/><circle cx="671.5" cy="260.5" r="7.9" fill="#060606"/>
<circle cx="724.4" cy="257.5" r="25.8" fill="url(#gdon)"/><circle cx="724.4" cy="257.5" r="7.9" fill="#060606"/>
<circle cx="777.4" cy="254.5" r="25.8" fill="url(#gdon)"/><circle cx="777.4" cy="254.5" r="7.9" fill="#060606"/>
<circle cx="830.3" cy="251.5" r="25.8" fill="url(#gdon)"/><circle cx="830.3" cy="251.5" r="7.9" fill="#060606"/>
<circle cx="883.3" cy="248.5" r="25.8" fill="url(#gdon)"/><circle cx="883.3" cy="248.5" r="7.9" fill="#060606"/>
<circle cx="936.2" cy="245.5" r="25.8" fill="url(#gdon)"/><circle cx="936.2" cy="245.5" r="7.9" fill="#060606"/>
</g>
<rect x="688.5" y="14.5" width="274" height="241" fill="none" stroke="#000" stroke-width="1.5"/>
<rect x="691.7" y="239.5" width="68.7" height="5" fill="#fff"/>
<text x="768.4" y="248.2" font-size="25.0" text-anchor="start" fill="#fff" font-weight="bold" font-style="normal" textLength="58.5" lengthAdjust="spacingAndGlyphs" >1 µm</text>
<path d="M91.9 362V633H461.6" stroke="#a6a6a6" stroke-width="1.2" fill="none"/>
<path d="M85.3 632.1H91.9M85.3 605.1H91.9M85.3 578.1H91.9M85.3 551.1H91.9M85.3 524.1H91.9M85.3 497.1H91.9M85.3 470.1H91.9M85.3 443.1H91.9M85.3 416.1H91.9M85.3 389.1H91.9M85.3 362.1H91.9M91.9 633V639.6M122.7 633V639.6M153.5 633V639.6M184.3 633V639.6M215.1 633V639.6M245.9 633V639.6M276.7 633V639.6M307.5 633V639.6M338.3 633V639.6M369.1 633V639.6M399.9 633V639.6M430.7 633V639.6M461.5 633V639.6" stroke="#a6a6a6" stroke-width="1.2"/>
<text x="71.5" y="641.3" font-size="20.0" text-anchor="end" fill="#000" font-weight="normal" font-style="normal" stroke="#000" stroke-width="0.3">0</text>
<text x="71.5" y="587.3" font-size="20.0" text-anchor="end" fill="#000" font-weight="normal" font-style="normal" stroke="#000" stroke-width="0.3">20</text>
<text x="71.5" y="533.3" font-size="20.0" text-anchor="end" fill="#000" font-weight="normal" font-style="normal" stroke="#000" stroke-width="0.3">40</text>
<text x="71.5" y="479.3" font-size="20.0" text-anchor="end" fill="#000" font-weight="normal" font-style="normal" stroke="#000" stroke-width="0.3">60</text>
<text x="71.5" y="425.3" font-size="20.0" text-anchor="end" fill="#000" font-weight="normal" font-style="normal" stroke="#000" stroke-width="0.3">80</text>
<text x="71.5" y="371.3" font-size="20.0" text-anchor="end" fill="#000" font-weight="normal" font-style="normal" stroke="#000" stroke-width="0.3">100</text>
<text x="91.9" y="670.1" font-size="19.8" text-anchor="middle" fill="#000" font-weight="normal" font-style="normal" stroke="#000" stroke-width="0.3">1200</text>
<text x="153.5" y="670.1" font-size="19.8" text-anchor="middle" fill="#000" font-weight="normal" font-style="normal" stroke="#000" stroke-width="0.3">1400</text>
<text x="215.1" y="670.1" font-size="19.8" text-anchor="middle" fill="#000" font-weight="normal" font-style="normal" stroke="#000" stroke-width="0.3">1600</text>
<text x="276.7" y="670.1" font-size="19.8" text-anchor="middle" fill="#000" font-weight="normal" font-style="normal" stroke="#000" stroke-width="0.3">1800</text>
<text x="338.3" y="670.1" font-size="19.8" text-anchor="middle" fill="#000" font-weight="normal" font-style="normal" stroke="#000" stroke-width="0.3">2000</text>
<text x="399.9" y="670.1" font-size="19.8" text-anchor="middle" fill="#000" font-weight="normal" font-style="normal" stroke="#000" stroke-width="0.3">2200</text>
<text x="461.5" y="670.1" font-size="19.8" text-anchor="middle" fill="#000" font-weight="normal" font-style="normal" stroke="#000" stroke-width="0.3">2400</text>
<text x="169.5" y="708.4" font-size="27.5" text-anchor="start" fill="#000" font-weight="normal" font-style="normal" textLength="213.0" lengthAdjust="spacingAndGlyphs" stroke="#000" stroke-width="0.3">Wavelength (nm)</text>
<text transform="translate(25 589.5) rotate(-90)" font-size="28" textLength="183" lengthAdjust="spacingAndGlyphs" stroke="#000" stroke-width="0.3">Absorption (%)</text>
<path d="M90.9 478.3 92.4 478.0 93.9 477.7 95.4 477.3 96.9 476.9 98.4 476.4 99.9 475.8 101.4 475.2 102.9 474.6 104.4 473.9 105.9 473.2 107.4 472.5 108.9 471.7 110.4 470.8 111.9 469.8 113.4 468.7 114.9 467.5 116.4 466.2 117.9 464.9 119.4 463.5 120.9 462.2 122.4 460.8 123.9 459.5 125.4 458.2 126.9 457.0 128.4 455.8 129.9 454.6 131.4 453.5 132.9 452.4 134.4 451.3 135.9 450.2 137.4 449.1 138.9 447.9 140.4 446.8 141.9 445.7 143.4 444.5 144.9 443.3 146.4 442.0 147.9 440.7 149.4 439.3 150.9 437.9 152.4 436.4 153.9 434.8 155.4 433.1 156.9 431.3 158.4 429.5 159.9 427.6 161.4 425.7 162.9 423.8 164.4 421.9 165.9 420.1 167.4 418.2 168.9 416.3 170.4 414.4 171.9 412.5 173.4 410.5 174.9 408.5 176.4 406.6 177.9 404.7 179.4 402.9 180.9 401.1 182.4 399.4 183.9 397.8 185.4 396.1 186.9 394.4 188.4 392.8 189.9 391.2 191.4 389.7 192.9 388.2 194.4 386.9 195.9 385.6 197.4 384.5 198.9 383.5 200.4 382.6 201.9 381.7 203.4 380.8 204.9 379.9 206.4 379.1 207.9 378.4 209.4 377.7 210.9 377.1 212.4 376.5 213.9 375.9 215.4 375.4 216.9 375.0 218.4 374.5 219.9 374.0 221.4 373.6 222.9 373.2 224.4 372.8 225.9 372.4 227.4 372.1 228.9 371.9 230.4 371.7 231.9 371.6 233.4 371.6 234.9 371.6 236.4 371.6 237.9 371.6 239.4 371.7 240.9 371.7 242.4 371.7 243.9 371.7 245.4 371.8 246.9 371.8 248.4 371.9 249.9 371.9 251.4 372.0 252.9 372.0 254.4 372.1 255.9 372.1 257.4 372.2 258.9 372.2 260.4 372.3 261.9 372.4 263.4 372.5 264.9 372.6 266.4 372.8 267.9 372.9 269.4 373.0 270.9 373.2 272.4 373.4 273.9 373.5 275.4 373.7 276.9 373.9 278.4 374.1 279.9 374.4 281.4 374.6 282.9 374.8 284.4 375.1 285.9 375.3 287.4 375.6 288.9 375.8 290.4 376.1 291.9 376.4 293.4 376.6 294.9 376.9 296.4 377.1 297.9 377.4 299.4 377.6 300.9 377.9 302.4 378.1 303.9 378.4 305.4 378.6 306.9 378.8 308.4 379.0 309.9 379.2 311.4 379.3 312.9 379.5 314.4 379.6 315.9 379.8 317.4 379.9 318.9 380.1 320.4 380.2 321.9 380.3 323.4 380.5 324.9 380.6 326.4 380.7 327.9 380.8 329.4 381.0 330.9 381.1 332.4 381.2 333.9 381.3 335.4 381.4 336.9 381.5 338.4 381.6 339.9 381.8 341.4 381.9 342.9 382.0 344.4 382.1 345.9 382.2 347.4 382.4 348.9 382.5 350.4 382.6 351.9 382.8 353.4 382.9 354.9 383.0 356.4 383.2 357.9 383.3 359.4 383.5 360.9 383.6 362.4 383.8 363.9 383.9 365.4 384.1 366.9 384.2 368.4 384.4 369.9 384.5 371.4 384.7 372.9 384.8 374.4 385.0 375.9 385.1 377.4 385.3 378.9 385.5 380.4 385.6 381.9 385.8 383.4 385.9 384.9 386.1 386.4 386.2 387.9 386.4 389.4 386.5 390.9 386.6 392.4 386.8 393.9 386.9 395.4 387.1 396.9 387.2 398.4 387.3 399.9 387.4 401.4 387.5 402.9 387.6 404.4 387.7 405.9 387.8 407.4 387.9 408.9 388.0 410.4 388.1 411.9 388.2 413.4 388.3 414.9 388.4 416.4 388.5 417.9 388.6 419.4 388.7 420.9 388.9 422.4 389.0 423.9 389.1 425.4 389.3 426.9 389.4 428.4 389.6 429.9 389.7 431.4 389.9 432.9 390.1 434.4 390.3 435.9 390.6 437.4 391.1 438.9 391.6 440.4 392.2 441.9 392.9 443.4 393.4 444.9 393.8 446.4 394.1 447.9 394.1 449.4 394.1 450.9 394.1 452.4 394.1 453.9 394.1 455.4 394.0 456.9 394.0 458.4 393.9 459.9 393.8 461.4 393.7 461.6 393.7" stroke="#000" stroke-width="2.6" fill="none" stroke-linejoin="round"/>
<path d="M90.9 395.7 92.4 395.6 93.9 395.5 95.4 395.4 96.9 395.3 98.4 395.1 99.9 395.0 101.4 394.8 102.9 394.7 104.4 394.5 105.9 394.3 107.4 394.1 108.9 393.9 110.4 393.7 111.9 393.5 113.4 393.3 114.9 393.1 116.4 392.8 117.9 392.6 119.4 392.3 120.9 392.0 122.4 391.7 123.9 391.4 125.4 391.0 126.9 390.7 128.4 390.2 129.9 389.7 131.4 389.2 132.9 388.6 134.4 387.9 135.9 387.2 137.4 386.5 138.9 385.8 140.4 385.1 141.9 384.4 143.4 383.7 144.9 383.0 146.4 382.3 147.9 381.5 149.4 380.8 150.9 380.0 152.4 379.2 153.9 378.4 155.4 377.6 156.9 376.9 158.4 376.1 159.9 375.4 161.4 374.8 162.9 374.2 164.4 373.6 165.9 373.1 167.4 372.7 168.9 372.2 170.4 371.8 171.9 371.3 173.4 370.9 174.9 370.4 176.4 370.0 177.9 369.6 179.4 369.3 180.9 369.0 182.4 368.7 183.9 368.5 185.4 368.4 186.9 368.3 188.4 368.3 189.9 368.3 191.4 368.3 192.9 368.3 194.4 368.3 195.9 368.3 197.4 368.3 198.9 368.3 200.4 368.3 201.9 368.3 203.4 368.3 204.9 368.3 206.4 368.3 207.9 368.3 209.4 368.3 210.9 368.3 212.4 368.3 213.9 368.3 215.4 368.3 216.9 368.3 218.4 368.3 219.9 368.4 221.4 368.5 222.9 368.6 224.4 368.8 225.9 369.0 227.4 369.3 228.9 369.5 230.4 369.7 231.9 370.0 233.4 370.2 234.9 370.5 236.4 370.7 237.9 370.9 239.4 371.0 240.9 371.2 242.4 371.4 243.9 371.6 245.4 371.8 246.9 372.0 248.4 372.2 249.9 372.4 251.4 372.6 252.9 372.8 254.4 373.0 255.9 373.2 257.4 373.5 258.9 373.7 260.4 374.0 261.9 374.3 263.4 374.6 264.9 374.9 266.4 375.3 267.9 375.6 269.4 375.9 270.9 376.2 272.4 376.4 273.9 376.7 275.4 377.0 276.9 377.3 278.4 377.6 279.9 377.8 281.4 378.1 282.9 378.4 284.4 378.6 285.9 378.9 287.4 379.2 288.9 379.4 290.4 379.7 291.9 379.9 293.4 380.2 294.9 380.4 296.4 380.7 297.9 380.9 299.4 381.2 300.9 381.4 302.4 381.6 303.9 381.8 305.4 382.0 306.9 382.2 308.4 382.4 309.9 382.6 311.4 382.8 312.9 383.0 314.4 383.2 315.9 383.3 317.4 383.5 318.9 383.7 320.4 383.8 321.9 384.0 323.4 384.1 324.9 384.3 326.4 384.4 327.9 384.5 329.4 384.7 330.9 384.8 332.4 384.9 333.9 385.1 335.4 385.2 336.9 385.3 338.4 385.5 339.9 385.6 341.4 385.7 342.9 385.9 344.4 386.0 345.9 386.2 347.4 386.3 348.9 386.5 350.4 386.7 351.9 386.8 353.4 387.0 354.9 387.2 356.4 387.4 357.9 387.6 359.4 387.8 360.9 388.0 362.4 388.2 363.9 388.4 365.4 388.6 366.9 388.9 368.4 389.1 369.9 389.3 371.4 389.5 372.9 389.8 374.4 390.0 375.9 390.2 377.4 390.5 378.9 390.7 380.4 391.0 381.9 391.2 383.4 391.4 384.9 391.7 386.4 391.9 387.9 392.2 389.4 392.4 390.9 392.7 392.4 392.9 393.9 393.1 395.4 393.4 396.9 393.6 398.4 393.9 399.9 394.1 401.4 394.4 402.9 394.6 404.4 394.8 405.9 395.1 407.4 395.3 408.9 395.6 410.4 395.8 411.9 396.1 413.4 396.3 414.9 396.6 416.4 396.8 417.9 397.1 419.4 397.4 420.9 397.6 422.4 397.9 423.9 398.2 425.4 398.5 426.9 398.7 428.4 399.0 429.9 399.3 431.4 399.6 432.9 399.9 434.4 400.2 435.9 400.5 437.4 400.9 438.9 401.2 440.4 401.5 441.9 401.9 443.4 402.2 444.9 402.6 446.4 402.9 447.9 403.3 449.4 403.7 450.9 404.1 452.4 404.4 453.9 404.8 455.4 405.2 456.9 405.6 458.4 406.0 459.9 406.4 461.4 406.8 461.6 406.9" stroke="#ff1a00" stroke-width="2.6" fill="none" stroke-linejoin="round"/>
<path d="M90.9 450.9 92.4 450.2 93.9 449.4 95.4 448.5 96.9 447.6 98.4 446.6 99.9 445.6 101.4 444.5 102.9 443.3 104.4 442.0 105.9 440.7 107.4 439.3 108.9 437.8 110.4 436.2 111.9 434.4 113.4 432.7 114.9 430.9 116.4 429.2 117.9 427.5 119.4 425.8 120.9 424.1 122.4 422.4 123.9 420.7 125.4 419.2 126.9 417.8 128.4 416.5 129.9 415.2 131.4 413.9 132.9 412.8 134.4 411.8 135.9 411.0 137.4 410.4 138.9 409.8 140.4 409.2 141.9 408.8 143.4 408.4 144.9 408.2 146.4 408.0 147.9 407.9 149.4 407.8 150.9 407.8 152.4 408.1 153.9 408.4 155.4 408.9 156.9 409.5 158.4 410.3 159.9 411.2 161.4 412.1 162.9 413.1 164.4 414.2 165.9 415.5 167.4 416.8 168.9 418.3 170.4 419.8 171.9 421.4 173.4 423.2 174.9 425.1 176.4 427.1 177.9 429.1 179.4 431.2 180.9 433.3 182.4 435.5 183.9 437.9 185.4 440.3 186.9 442.7 188.4 445.0 189.9 447.1 191.4 449.2 192.9 451.2 194.4 453.1 195.9 454.9 197.4 456.7 198.9 458.4 200.4 460.0 201.9 461.6 203.4 463.2 204.9 464.6 206.4 466.0 207.9 467.4 209.4 468.6 210.9 469.7 212.4 470.7 213.9 471.7 215.4 472.7 216.9 473.6 218.4 474.5 219.9 475.3 221.4 476.2 222.9 477.1 224.4 477.9 225.9 478.7 227.4 479.5 228.9 480.3 230.4 481.1 231.9 481.9 233.4 482.8 234.9 483.7 236.4 484.5 237.9 485.4 239.4 486.3 240.9 487.1 242.4 488.0 243.9 488.7 245.4 489.5 246.9 490.1 248.4 490.8 249.9 491.4 251.4 492.0 252.9 492.5 254.4 493.1 255.9 493.6 257.4 494.1 258.9 494.6 260.4 495.1 261.9 495.6 263.4 496.0 264.9 496.4 266.4 496.8 267.9 497.2 269.4 497.6 270.9 498.0 272.4 498.5 273.9 499.0 275.4 499.5 276.9 500.0 278.4 500.6 279.9 501.3 281.4 502.0 282.9 502.8 284.4 503.6 285.9 504.5 287.4 505.4 288.9 506.3 290.4 507.3 291.9 508.3 293.4 509.5 294.9 510.8 296.4 512.1 297.2 512.8 305.0 512.8 310.1 516.6 317.8 516.6 328.1 511.5 335.9 512.0 351.3 517.9 359.0 520.5 364.2 524.9 374.5 528.2 382.2 534.7 389.9 536.0 395.1 534.7 404.1 551.4 413.1 545.0 418.2 550.1 431.1 550.1 446.6 568.1 451.7 562.5 456.9 566.8 460.7 564.3 462.0 572.0" stroke="#0a24e6" stroke-width="2.6" fill="none" stroke-linejoin="round"/>
<path d="M123 557.0H179" stroke="#8a8a8a" stroke-width="3.5" opacity="0.55" filter="url(#blur1)"/>
<path d="M122.3 553.0H178.9" stroke="#000" stroke-width="3.6"/>
<path d="M123 584.4H179" stroke="#8a8a8a" stroke-width="3.5" opacity="0.55" filter="url(#blur1)"/>
<path d="M122.3 580.4H178.9" stroke="#ff1a00" stroke-width="2.8"/>
<path d="M123 611.8H179" stroke="#8a8a8a" stroke-width="3.5" opacity="0.55" filter="url(#blur1)"/>
<path d="M122.3 607.8H178.9" stroke="#0a24e6" stroke-width="2.8"/>
<text x="186.0" y="559.5" font-size="25.0" text-anchor="start" fill="#000" font-weight="normal" font-style="normal" textLength="147.0" lengthAdjust="spacingAndGlyphs" >HNT (200 °C)</text>
<text x="186.0" y="587.6" font-size="25.0" text-anchor="start" fill="#000" font-weight="normal" font-style="normal" textLength="147.0" lengthAdjust="spacingAndGlyphs" >HNT (185 °C)</text>
<text x="186.0" y="615.4" font-size="25.0" text-anchor="start" fill="#000" font-weight="normal" font-style="normal" textLength="158.0" lengthAdjust="spacingAndGlyphs" >AZO nanotube</text>
<defs><linearGradient id="gfloor" x1="1" y1="0" x2="0.3" y2="1"><stop offset="0" stop-color="#dadada"/><stop offset="0.45" stop-color="#c4c4c4"/><stop offset="1" stop-color="#bdbdbd"/></linearGradient><linearGradient id="gpl" x1="0" y1="0" x2="0.25" y2="1"><stop offset="0" stop-color="#cdcdcd"/><stop offset="0.6" stop-color="#c4c4c4"/><stop offset="1" stop-color="#bababa"/></linearGradient></defs>
<polygon points="619,577 965,578 851,674.5 516,665" fill="url(#gfloor)"/>
<polygon points="576,373.5 907,383.6 907,626.3 576,615.6" fill="url(#gpl)"/>
<polygon points="619,577 907,578 907,626.3 576,615.6" fill="#a6a6a6" opacity="0.75"/>
<path d="M652.7 460.5 L652.7 590.5 A44.3 12.0 0 0 0 741.3 590.5 L741.3 460.5 Z" fill="url(#gbodym)"/><ellipse cx="697.0" cy="460.5" rx="44.3" ry="12.0" fill="#6d7499"/><ellipse cx="697.0" cy="460.6" rx="38.9" ry="10.5" fill="#6fa9c6"/><ellipse cx="697.0" cy="460.7" rx="33.5" ry="9.1" fill="#646b98"/><ellipse cx="697.0" cy="460.8" rx="28.1" ry="7.6" fill="#6fa9c6"/><ellipse cx="697.0" cy="460.9" rx="22.7" ry="6.2" fill="#646b98"/><ellipse cx="697.0" cy="461.0" rx="17.3" ry="4.7" fill="#6fa9c6"/><ellipse cx="697.0" cy="461.5" rx="11.9" ry="3.2" fill="#76676f"/><path d="M748.5 463.0 L748.5 593.0 A44.3 12.0 0 0 0 837.1 593.0 L837.1 463.0 Z" fill="url(#gbodym)"/><ellipse cx="792.8" cy="463.0" rx="44.3" ry="12.0" fill="#6d7499"/><ellipse cx="792.8" cy="463.1" rx="38.9" ry="10.5" fill="#6fa9c6"/><ellipse cx="792.8" cy="463.2" rx="33.5" ry="9.1" fill="#646b98"/><ellipse cx="792.8" cy="463.3" rx="28.1" ry="7.6" fill="#6fa9c6"/><ellipse cx="792.8" cy="463.4" rx="22.7" ry="6.2" fill="#646b98"/><ellipse cx="792.8" cy="463.5" rx="17.3" ry="4.7" fill="#6fa9c6"/><ellipse cx="792.8" cy="464.0" rx="11.9" ry="3.2" fill="#76676f"/><path d="M599.2 488.7 L599.2 618.7 A44.3 12.0 0 0 0 687.8 618.7 L687.8 488.7 Z" fill="url(#gbodym)"/><ellipse cx="643.5" cy="488.7" rx="44.3" ry="12.0" fill="#6d7499"/><ellipse cx="643.5" cy="488.8" rx="38.9" ry="10.5" fill="#6fa9c6"/><ellipse cx="643.5" cy="488.9" rx="33.5" ry="9.1" fill="#646b98"/><ellipse cx="643.5" cy="489.0" rx="28.1" ry="7.6" fill="#6fa9c6"/><ellipse cx="643.5" cy="489.1" rx="22.7" ry="6.2" fill="#646b98"/><ellipse cx="643.5" cy="489.2" rx="17.3" ry="4.7" fill="#6fa9c6"/><ellipse cx="643.5" cy="489.7" rx="11.9" ry="3.2" fill="#76676f"/><path d="M696.0 492.6 L696.0 622.6 A44.3 12.0 0 0 0 784.6 622.6 L784.6 492.6 Z" fill="url(#gbodym)"/><ellipse cx="740.3" cy="492.6" rx="44.3" ry="12.0" fill="#6d7499"/><ellipse cx="740.3" cy="492.7" rx="38.9" ry="10.5" fill="#6fa9c6"/><ellipse cx="740.3" cy="492.8" rx="33.5" ry="9.1" fill="#646b98"/><ellipse cx="740.3" cy="492.9" rx="28.1" ry="7.6" fill="#6fa9c6"/><ellipse cx="740.3" cy="493.0" rx="22.7" ry="6.2" fill="#646b98"/><ellipse cx="740.3" cy="493.1" rx="17.3" ry="4.7" fill="#6fa9c6"/><ellipse cx="740.3" cy="493.6" rx="11.9" ry="3.2" fill="#76676f"/><path d="M794.6 495.5 L794.6 625.5 A44.3 12.0 0 0 0 883.2 625.5 L883.2 495.5 Z" fill="url(#gbodym)"/><ellipse cx="838.9" cy="495.5" rx="44.3" ry="12.0" fill="#6d7499"/><ellipse cx="838.9" cy="495.6" rx="38.9" ry="10.5" fill="#6fa9c6"/><ellipse cx="838.9" cy="495.7" rx="33.5" ry="9.1" fill="#646b98"/><ellipse cx="838.9" cy="495.8" rx="28.1" ry="7.6" fill="#6fa9c6"/><ellipse cx="838.9" cy="495.9" rx="22.7" ry="6.2" fill="#646b98"/><ellipse cx="838.9" cy="496.0" rx="17.3" ry="4.7" fill="#6fa9c6"/><ellipse cx="838.9" cy="496.5" rx="11.9" ry="3.2" fill="#76676f"/>
<clipPath id="cm0"><rect x="593.5" y="488.7" width="100.0" height="200"/></clipPath>
<g clip-path="url(#cm0)"><path d="M599.2 488.7 L599.2 618.7 A44.3 12.0 0 0 0 687.8 618.7 L687.8 488.7 Z" fill="url(#gbody)"/><ellipse cx="643.5" cy="488.7" rx="44.3" ry="12.0" fill="#2a3c96"/><ellipse cx="643.5" cy="488.8" rx="38.9" ry="10.5" fill="#3db0e6"/><ellipse cx="643.5" cy="488.9" rx="33.5" ry="9.1" fill="#2d2f92"/><ellipse cx="643.5" cy="489.0" rx="28.1" ry="7.6" fill="#3db0e6"/><ellipse cx="643.5" cy="489.1" rx="22.7" ry="6.2" fill="#2d2f92"/><ellipse cx="643.5" cy="489.2" rx="17.3" ry="4.7" fill="#3db0e6"/><ellipse cx="643.5" cy="489.7" rx="11.9" ry="3.2" fill="url(#ghole)"/></g>
<clipPath id="cm1"><rect x="690.3" y="492.6" width="100.0" height="200"/></clipPath>
<g clip-path="url(#cm1)"><path d="M696.0 492.6 L696.0 622.6 A44.3 12.0 0 0 0 784.6 622.6 L784.6 492.6 Z" fill="url(#gbody)"/><ellipse cx="740.3" cy="492.6" rx="44.3" ry="12.0" fill="#2a3c96"/><ellipse cx="740.3" cy="492.7" rx="38.9" ry="10.5" fill="#3db0e6"/><ellipse cx="740.3" cy="492.8" rx="33.5" ry="9.1" fill="#2d2f92"/><ellipse cx="740.3" cy="492.9" rx="28.1" ry="7.6" fill="#3db0e6"/><ellipse cx="740.3" cy="493.0" rx="22.7" ry="6.2" fill="#2d2f92"/><ellipse cx="740.3" cy="493.1" rx="17.3" ry="4.7" fill="#3db0e6"/><ellipse cx="740.3" cy="493.6" rx="11.9" ry="3.2" fill="url(#ghole)"/></g>
<clipPath id="cm2"><rect x="788.9" y="495.5" width="100.0" height="200"/></clipPath>
<g clip-path="url(#cm2)"><path d="M794.6 495.5 L794.6 625.5 A44.3 12.0 0 0 0 883.2 625.5 L883.2 495.5 Z" fill="url(#gbody)"/><ellipse cx="838.9" cy="495.5" rx="44.3" ry="12.0" fill="#2a3c96"/><ellipse cx="838.9" cy="495.6" rx="38.9" ry="10.5" fill="#3db0e6"/><ellipse cx="838.9" cy="495.7" rx="33.5" ry="9.1" fill="#2d2f92"/><ellipse cx="838.9" cy="495.8" rx="28.1" ry="7.6" fill="#3db0e6"/><ellipse cx="838.9" cy="495.9" rx="22.7" ry="6.2" fill="#2d2f92"/><ellipse cx="838.9" cy="496.0" rx="17.3" ry="4.7" fill="#3db0e6"/><ellipse cx="838.9" cy="496.5" rx="11.9" ry="3.2" fill="url(#ghole)"/></g>
<path d="M636.6 520.0 L636.6 650.0 A44.3 12.0 0 0 0 725.2 650.0 L725.2 520.0 Z" fill="url(#gbody)"/><ellipse cx="680.9" cy="520.0" rx="44.3" ry="12.0" fill="#2a3c96"/><ellipse cx="680.9" cy="520.1" rx="38.9" ry="10.5" fill="#3db0e6"/><ellipse cx="680.9" cy="520.2" rx="33.5" ry="9.1" fill="#2d2f92"/><ellipse cx="680.9" cy="520.3" rx="28.1" ry="7.6" fill="#3db0e6"/><ellipse cx="680.9" cy="520.4" rx="22.7" ry="6.2" fill="#2d2f92"/><ellipse cx="680.9" cy="520.5" rx="17.3" ry="4.7" fill="#3db0e6"/><ellipse cx="680.9" cy="521.0" rx="11.9" ry="3.2" fill="url(#ghole)"/>
<path d="M733.2 525.0 L733.2 655.0 A44.3 12.0 0 0 0 821.8 655.0 L821.8 525.0 Z" fill="url(#gbody)"/><ellipse cx="777.5" cy="525.0" rx="44.3" ry="12.0" fill="#2a3c96"/><ellipse cx="777.5" cy="525.1" rx="38.9" ry="10.5" fill="#3db0e6"/><ellipse cx="777.5" cy="525.2" rx="33.5" ry="9.1" fill="#2d2f92"/><ellipse cx="777.5" cy="525.3" rx="28.1" ry="7.6" fill="#3db0e6"/><ellipse cx="777.5" cy="525.4" rx="22.7" ry="6.2" fill="#2d2f92"/><ellipse cx="777.5" cy="525.5" rx="17.3" ry="4.7" fill="#3db0e6"/><ellipse cx="777.5" cy="526.0" rx="11.9" ry="3.2" fill="url(#ghole)"/>
<path d="M740.4 361.7V471L695.4 407.4" stroke="#000" stroke-width="2.3" fill="none" stroke-linejoin="miter"/>
<path d="M722.9 444.4Q727.5 435.5 740 435.3" stroke="#000" stroke-width="2" fill="none"/>
<path d="M655.2 353.8L689 398" stroke="#e8281c" stroke-width="2.2"/>
<polygon points="695.4,407.4 684,397 692,391" fill="#e8281c"/>
<path d="M655.2 353.8L672 326" stroke="#000" stroke-width="2"/>
<polygon points="676.2,319.7 666,326 674,331" fill="#000"/>
<path d="M655.2 353.8L705 328" stroke="#1432d8" stroke-width="2"/>
<polygon points="713.2,324.6 701,324 705,333" fill="#1432d8"/>
<circle cx="655.2" cy="353.8" r="6" fill="#ee2a1e"/>
<text x="630.7" y="325.3" font-size="29.4" text-anchor="start" fill="#000" font-weight="normal" font-style="normal" >H</text>
<text x="727.9" y="332.8" font-size="29.8" text-anchor="start" fill="#000" font-weight="normal" font-style="normal" >E</text>
<text x="642.8" y="388.9" font-size="26.0" text-anchor="start" fill="#000" font-weight="normal" font-style="normal" textLength="14.5" lengthAdjust="spacingAndGlyphs" >k</text>
<text x="717.3" y="422.3" font-size="28.0" text-anchor="start" fill="#000" font-weight="bold" font-style="normal" textLength="18.0" lengthAdjust="spacingAndGlyphs" >θ</text>
<rect x="86.5" y="771.5" width="347.5" height="309.6" fill="none" stroke="#000" stroke-width="1.3"/><path d="M149.7 771.5v10M149.7 1081.1v-10M212.9 771.5v10M212.9 1081.1v-10M276.0 771.5v10M276.0 1081.1v-10M339.2 771.5v10M339.2 1081.1v-10M402.4 771.5v10M402.4 1081.1v-10" stroke="#000" stroke-width="3"/><path d="M86.5 1068.6h10M434.0 1068.6h-10M86.5 1009.2h10M434.0 1009.2h-10M86.5 949.8h10M434.0 949.8h-10M86.5 890.3h10M434.0 890.3h-10M86.5 830.9h10M434.0 830.9h-10" stroke="#000" stroke-width="3"/><path d="M86.5 1038.9h5M434.0 1038.9h-5M86.5 979.5h5M434.0 979.5h-5M86.5 920.1h5M434.0 920.1h-5M86.5 860.6h5M434.0 860.6h-5M86.5 801.2h5M434.0 801.2h-5" stroke="#000" stroke-width="1.5"/>
<rect x="528.6" y="771.5" width="346.6" height="310.2" fill="none" stroke="#000" stroke-width="1.3"/><path d="M591.6 771.5v10M591.6 1081.7v-10M654.6 771.5v10M654.6 1081.7v-10M717.7 771.5v10M717.7 1081.7v-10M780.7 771.5v10M780.7 1081.7v-10M843.7 771.5v10M843.7 1081.7v-10" stroke="#000" stroke-width="3"/><path d="M528.6 1069.2h10M875.2 1069.2h-10M528.6 1009.7h10M875.2 1009.7h-10M528.6 950.1h10M875.2 950.1h-10M528.6 890.6h10M875.2 890.6h-10M528.6 831.0h10M875.2 831.0h-10" stroke="#000" stroke-width="3"/><path d="M528.6 1039.4h5M875.2 1039.4h-5M528.6 979.9h5M875.2 979.9h-5M528.6 920.3h5M875.2 920.3h-5M528.6 860.8h5M875.2 860.8h-5M528.6 801.3h5M875.2 801.3h-5" stroke="#000" stroke-width="1.5"/>
<rect x="906" y="772.2" width="18.5" height="313.4" fill="none" stroke="#000" stroke-width="1"/>
<defs><linearGradient id="gcb" x1="0" y1="0" x2="0" y2="1"><stop offset="0.0000" stop-color="#870000"/><stop offset="0.0156" stop-color="#870000"/><stop offset="0.0156" stop-color="#970000"/><stop offset="0.0312" stop-color="#970000"/><stop offset="0.0312" stop-color="#a70000"/><stop offset="0.0469" stop-color="#a70000"/><stop offset="0.0469" stop-color="#b70000"/><stop offset="0.0625" stop-color="#b70000"/><stop offset="0.0625" stop-color="#c70000"/><stop offset="0.0781" stop-color="#c70000"/><stop offset="0.0781" stop-color="#d70000"/><stop offset="0.0938" stop-color="#d70000"/><stop offset="0.0938" stop-color="#e70000"/><stop offset="0.1094" stop-color="#e70000"/><stop offset="0.1094" stop-color="#f70000"/><stop offset="0.1250" stop-color="#f70000"/><stop offset="0.1250" stop-color="#ff0800"/><stop offset="0.1406" stop-color="#ff0800"/><stop offset="0.1406" stop-color="#ff1800"/><stop offset="0.1562" stop-color="#ff1800"/><stop offset="0.1562" stop-color="#ff2800"/><stop offset="0.1719" stop-color="#ff2800"/><stop offset="0.1719" stop-color="#ff3800"/><stop offset="0.1875" stop-color="#ff3800"/><stop offset="0.1875" stop-color="#ff4800"/><stop offset="0.2031" stop-color="#ff4800"/><stop offset="0.2031" stop-color="#ff5800"/><stop offset="0.2188" stop-color="#ff5800"/><stop offset="0.2188" stop-color="#ff6800"/><stop offset="0.2344" stop-color="#ff6800"/><stop offset="0.2344" stop-color="#ff7800"/><stop offset="0.2500" stop-color="#ff7800"/><stop offset="0.2500" stop-color="#ff8700"/><stop offset="0.2656" stop-color="#ff8700"/><stop offset="0.2656" stop-color="#ff9700"/><stop offset="0.2812" stop-color="#ff9700"/><stop offset="0.2812" stop-color="#ffa700"/><stop offset="0.2969" stop-color="#ffa700"/><stop offset="0.2969" stop-color="#ffb700"/><stop offset="0.3125" stop-color="#ffb700"/><stop offset="0.3125" stop-color="#ffc700"/><stop offset="0.3281" stop-color="#ffc700"/><stop offset="0.3281" stop-color="#ffd700"/><stop offset="0.3438" stop-color="#ffd700"/><stop offset="0.3438" stop-color="#ffe700"/><stop offset="0.3594" stop-color="#ffe700"/><stop offset="0.3594" stop-color="#fff700"/><stop offset="0.3750" stop-color="#fff700"/><stop offset="0.3750" stop-color="#f7ff08"/><stop offset="0.3906" stop-color="#f7ff08"/><stop offset="0.3906" stop-color="#e7ff18"/><stop offset="0.4062" stop-color="#e7ff18"/><stop offset="0.4062" stop-color="#d7ff28"/><stop offset="0.4219" stop-color="#d7ff28"/><stop offset="0.4219" stop-color="#c7ff38"/><stop offset="0.4375" stop-color="#c7ff38"/><stop offset="0.4375" stop-color="#b7ff48"/><stop offset="0.4531" stop-color="#b7ff48"/><stop offset="0.4531" stop-color="#a7ff58"/><stop offset="0.4688" stop-color="#a7ff58"/><stop offset="0.4688" stop-color="#97ff68"/><stop offset="0.4844" stop-color="#97ff68"/><stop offset="0.4844" stop-color="#87ff78"/><stop offset="0.5000" stop-color="#87ff78"/><stop offset="0.5000" stop-color="#78ff87"/><stop offset="0.5156" stop-color="#78ff87"/><stop offset="0.5156" stop-color="#68ff97"/><stop offset="0.5312" stop-color="#68ff97"/><stop offset="0.5312" stop-color="#58ffa7"/><stop offset="0.5469" stop-color="#58ffa7"/><stop offset="0.5469" stop-color="#48ffb7"/><stop offset="0.5625" stop-color="#48ffb7"/><stop offset="0.5625" stop-color="#38ffc7"/><stop offset="0.5781" stop-color="#38ffc7"/><stop offset="0.5781" stop-color="#28ffd7"/><stop offset="0.5938" stop-color="#28ffd7"/><stop offset="0.5938" stop-color="#18ffe7"/><stop offset="0.6094" stop-color="#18ffe7"/><stop offset="0.6094" stop-color="#08fff7"/><stop offset="0.6250" stop-color="#08fff7"/><stop offset="0.6250" stop-color="#00f7ff"/><stop offset="0.6406" stop-color="#00f7ff"/><stop offset="0.6406" stop-color="#00e7ff"/><stop offset="0.6562" stop-color="#00e7ff"/><stop offset="0.6562" stop-color="#00d7ff"/><stop offset="0.6719" stop-color="#00d7ff"/><stop offset="0.6719" stop-color="#00c7ff"/><stop offset="0.6875" stop-color="#00c7ff"/><stop offset="0.6875" stop-color="#00b7ff"/><stop offset="0.7031" stop-color="#00b7ff"/><stop offset="0.7031" stop-color="#00a7ff"/><stop offset="0.7188" stop-color="#00a7ff"/><stop offset="0.7188" stop-color="#0097ff"/><stop offset="0.7344" stop-color="#0097ff"/><stop offset="0.7344" stop-color="#0087ff"/><stop offset="0.7500" stop-color="#0087ff"/><stop offset="0.7500" stop-color="#0078ff"/><stop offset="0.7656" stop-color="#0078ff"/><stop offset="0.7656" stop-color="#0068ff"/><stop offset="0.7812" stop-color="#0068ff"/><stop offset="0.7812" stop-color="#0058ff"/><stop offset="0.7969" stop-color="#0058ff"/><stop offset="0.7969" stop-color="#0048ff"/><stop offset="0.8125" stop-color="#0048ff"/><stop offset="0.8125" stop-color="#0038ff"/><stop offset="0.8281" stop-color="#0038ff"/><stop offset="0.8281" stop-color="#0028ff"/><stop offset="0.8438" stop-color="#0028ff"/><stop offset="0.8438" stop-color="#0018ff"/><stop offset="0.8594" stop-color="#0018ff"/><stop offset="0.8594" stop-color="#0008ff"/><stop offset="0.8750" stop-color="#0008ff"/><stop offset="0.8750" stop-color="#0000f7"/><stop offset="0.8906" stop-color="#0000f7"/><stop offset="0.8906" stop-color="#0000e7"/><stop offset="0.9062" stop-color="#0000e7"/><stop offset="0.9062" stop-color="#0000d7"/><stop offset="0.9219" stop-color="#0000d7"/><stop offset="0.9219" stop-color="#0000c7"/><stop offset="0.9375" stop-color="#0000c7"/><stop offset="0.9375" stop-color="#0000b7"/><stop offset="0.9531" stop-color="#0000b7"/><stop offset="0.9531" stop-color="#0000a7"/><stop offset="0.9688" stop-color="#0000a7"/><stop offset="0.9688" stop-color="#000097"/><stop offset="0.9844" stop-color="#000097"/><stop offset="0.9844" stop-color="#000087"/><stop offset="1.0000" stop-color="#000087"/></linearGradient></defs><rect x="906" y="771.50" width="18.5" height="314.40" fill="url(#gcb)"/>
<path d="M906 1046.6h4M924.5 1046.6h-4M906 1007.3h4M924.5 1007.3h-4M906 968.0h4M924.5 968.0h-4M906 928.7h4M924.5 928.7h-4M906 889.4h4M924.5 889.4h-4M906 850.1h4M924.5 850.1h-4M906 810.8h4M924.5 810.8h-4" stroke="#000" stroke-width="1.2"/>
<rect x="906" y="772.2" width="18.5" height="313.4" fill="none" stroke="#000" stroke-width="1"/>
<text x="925.0" y="1093.4" font-size="21.8" text-anchor="start" fill="#000" font-weight="normal" font-style="normal" textLength="24.5" lengthAdjust="spacingAndGlyphs" stroke="#000" stroke-width="0.2">60</text>
<text x="925.0" y="1013.8" font-size="21.8" text-anchor="start" fill="#000" font-weight="normal" font-style="normal" textLength="24.5" lengthAdjust="spacingAndGlyphs" stroke="#000" stroke-width="0.2">70</text>
<text x="925.0" y="934.6" font-size="21.8" text-anchor="start" fill="#000" font-weight="normal" font-style="normal" textLength="24.5" lengthAdjust="spacingAndGlyphs" stroke="#000" stroke-width="0.2">80</text>
<text x="925.0" y="855.4" font-size="21.8" text-anchor="start" fill="#000" font-weight="normal" font-style="normal" textLength="24.5" lengthAdjust="spacingAndGlyphs" stroke="#000" stroke-width="0.2">90</text>
<text x="925.0" y="775.7" font-size="21.8" text-anchor="start" fill="#000" font-weight="normal" font-style="normal" textLength="37.0" lengthAdjust="spacingAndGlyphs" stroke="#000" stroke-width="0.2">100</text>
<text x="158.2" y="761.8" font-size="36.0" text-anchor="start" fill="#000" font-weight="normal" font-style="normal" textLength="253.0" lengthAdjust="spacingAndGlyphs" >TM Polarization</text>
<text x="572.9" y="761.8" font-size="36.0" text-anchor="start" fill="#000" font-weight="normal" font-style="normal" textLength="245.0" lengthAdjust="spacingAndGlyphs" >TE Polarization</text>
<text x="84.0" y="1076.2" font-size="22.0" text-anchor="end" fill="#000" font-weight="normal" font-style="normal" stroke="#000" stroke-width="0.2">10</text><text x="84.0" y="1016.8" font-size="22.0" text-anchor="end" fill="#000" font-weight="normal" font-style="normal" stroke="#000" stroke-width="0.2">20</text><text x="84.0" y="957.4" font-size="22.0" text-anchor="end" fill="#000" font-weight="normal" font-style="normal" stroke="#000" stroke-width="0.2">30</text><text x="84.0" y="897.9" font-size="22.0" text-anchor="end" fill="#000" font-weight="normal" font-style="normal" stroke="#000" stroke-width="0.2">40</text><text x="84.0" y="838.5" font-size="22.0" text-anchor="end" fill="#000" font-weight="normal" font-style="normal" stroke="#000" stroke-width="0.2">50</text><text x="84.0" y="779.1" font-size="22.0" text-anchor="end" fill="#000" font-weight="normal" font-style="normal" stroke="#000" stroke-width="0.2">60</text>
<text x="526.0" y="1076.1" font-size="22.0" text-anchor="end" fill="#000" font-weight="normal" font-style="normal" stroke="#000" stroke-width="0.2">10</text><text x="526.0" y="1016.6" font-size="22.0" text-anchor="end" fill="#000" font-weight="normal" font-style="normal" stroke="#000" stroke-width="0.2">20</text><text x="526.0" y="957.0" font-size="22.0" text-anchor="end" fill="#000" font-weight="normal" font-style="normal" stroke="#000" stroke-width="0.2">30</text><text x="526.0" y="897.5" font-size="22.0" text-anchor="end" fill="#000" font-weight="normal" font-style="normal" stroke="#000" stroke-width="0.2">40</text><text x="526.0" y="837.9" font-size="22.0" text-anchor="end" fill="#000" font-weight="normal" font-style="normal" stroke="#000" stroke-width="0.2">50</text><text x="526.0" y="778.4" font-size="22.0" text-anchor="end" fill="#000" font-weight="normal" font-style="normal" stroke="#000" stroke-width="0.2">60</text>
<text x="56.7" y="1102.2" font-size="21.2" text-anchor="start" fill="#000" font-weight="normal" font-style="normal" stroke="#000" stroke-width="0.2">1400</text><text x="117.8" y="1102.2" font-size="21.2" text-anchor="start" fill="#000" font-weight="normal" font-style="normal" stroke="#000" stroke-width="0.2">1600</text><text x="179.7" y="1102.2" font-size="21.2" text-anchor="start" fill="#000" font-weight="normal" font-style="normal" stroke="#000" stroke-width="0.2">1800</text><text x="248.5" y="1102.2" font-size="21.2" text-anchor="start" fill="#000" font-weight="normal" font-style="normal" stroke="#000" stroke-width="0.2">2000</text><text x="315.4" y="1102.2" font-size="21.2" text-anchor="start" fill="#000" font-weight="normal" font-style="normal" stroke="#000" stroke-width="0.2">2200</text><text x="377.2" y="1102.2" font-size="21.2" text-anchor="start" fill="#000" font-weight="normal" font-style="normal" stroke="#000" stroke-width="0.2">2400</text>
<text x="498.6" y="1102.5" font-size="21.2" text-anchor="start" fill="#000" font-weight="normal" font-style="normal" stroke="#000" stroke-width="0.2">1400</text><text x="559.9" y="1102.5" font-size="21.2" text-anchor="start" fill="#000" font-weight="normal" font-style="normal" stroke="#000" stroke-width="0.2">1600</text><text x="621.4" y="1102.5" font-size="21.2" text-anchor="start" fill="#000" font-weight="normal" font-style="normal" stroke="#000" stroke-width="0.2">1800</text><text x="688.7" y="1102.5" font-size="21.2" text-anchor="start" fill="#000" font-weight="normal" font-style="normal" stroke="#000" stroke-width="0.2">2000</text><text x="756.6" y="1102.5" font-size="21.2" text-anchor="start" fill="#000" font-weight="normal" font-style="normal" stroke="#000" stroke-width="0.2">2200</text><text x="817.8" y="1102.5" font-size="21.2" text-anchor="start" fill="#000" font-weight="normal" font-style="normal" stroke="#000" stroke-width="0.2">2400</text>
<text x="161.5" y="1132.4" font-size="29.0" text-anchor="start" fill="#000" font-weight="normal" font-style="normal" textLength="223.0" lengthAdjust="spacingAndGlyphs" >Wavelength (nm)</text>
<text x="603.0" y="1131.9" font-size="29.0" text-anchor="start" fill="#000" font-weight="normal" font-style="normal" textLength="225.0" lengthAdjust="spacingAndGlyphs" >Wavelength (nm)</text>
<text transform="translate(44.8 1048) rotate(-90)" font-size="30.5" textLength="269.8" lengthAdjust="spacingAndGlyphs">Incident Angle (Deg)</text>
<text transform="translate(488.1 1048) rotate(-90)" font-size="30.5" textLength="269.8" lengthAdjust="spacingAndGlyphs">Incident Angle (Deg)</text>
</svg>
</body></html>
